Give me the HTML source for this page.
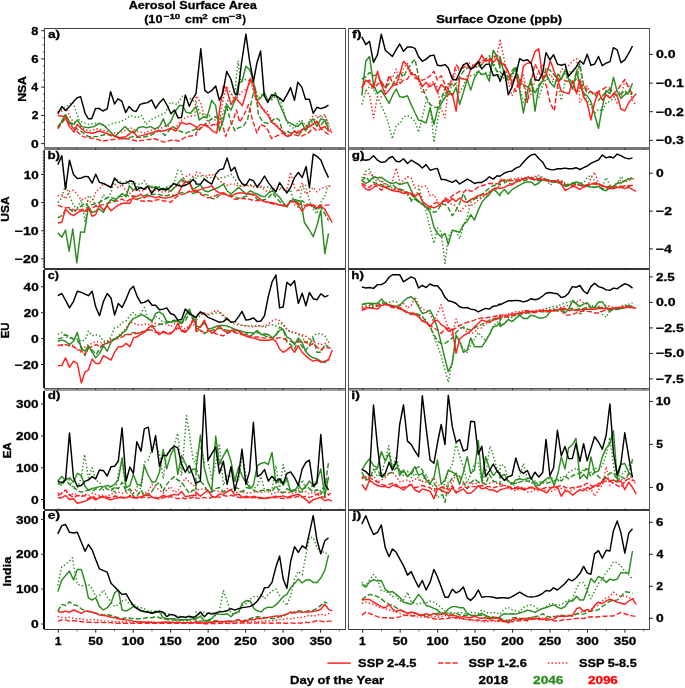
<!DOCTYPE html>
<html><head><meta charset="utf-8"><style>
html,body{margin:0;padding:0;background:#fff;width:685px;height:688px;overflow:hidden}
svg{display:block;will-change:transform}
text{font-family:"Liberation Sans",sans-serif;font-weight:bold}
</style></head><body>
<svg width="685" height="688" viewBox="0 0 685 688">
<rect width="685" height="688" fill="#fff"/>
<polyline points="57.8,112.1 64.0,107.7 72.8,102.2 79.5,121.0 88.4,124.4 97.3,123.2 106.1,126.6 112.8,123.2 119.4,122.1 126.1,118.8 130.5,115.5 137.2,117.7 141.6,115.5 146.1,124.4 150.5,119.9 154.9,117.7 159.4,115.5 164.9,113.3 170.5,102.2 177.1,104.4 182.7,95.5 186.0,99.9 190.5,98.8 196.0,102.5 200.4,114.5 204.8,114.5 209.1,115.6 213.5,120.0 217.9,120.0 222.3,115.6 226.7,102.5 231.0,95.9 235.0,91.5 238.0,60.8 240.9,81.6 245.3,79.5 249.6,80.6 254.0,87.1 258.4,98.1 262.8,93.7 267.2,100.3 271.5,100.3 275.9,95.9 280.3,100.3 283.6,111.2 286.9,122.2 290.6,126.5 294.5,128.7 297.8,122.2 301.8,120.0 305.5,126.5 309.4,124.4 313.2,121.1 316.9,117.8 320.8,115.6 324.8,114.5 328.5,124.4" fill="none" stroke="#2a8c1e" stroke-width="1.45" stroke-linejoin="round" stroke-dasharray="1.4 2.2"/>
<polyline points="57.8,113.3 66.2,108.8 71.7,119.9 79.5,126.6 88.4,131.0 97.3,128.8 106.1,131.0 112.8,133.2 121.7,132.1 130.5,127.7 137.2,131.0 143.9,133.2 152.7,129.9 159.4,128.8 167.2,125.5 174.9,128.8 181.6,119.9 188.2,116.6 194.9,115.5 196.0,95.9 200.4,102.5 203.7,113.4 208.0,122.2 212.4,124.4 216.8,124.4 219.4,122.2 223.4,98.1 226.7,86.0 231.0,93.7 235.0,100.3 238.7,95.9 242.4,91.5 246.4,89.3 250.7,81.6 254.0,93.7 258.4,106.8 262.8,109.0 267.2,111.2 271.5,120.0 275.9,124.4 280.3,128.7 283.6,132.0 288.0,135.3 292.4,133.1 296.7,130.9 301.1,130.9 305.5,127.6 309.9,120.0 313.2,115.6 316.4,115.6 320.8,117.8 324.8,115.6 328.5,124.4 331.8,133.1" fill="none" stroke="#ff2020" stroke-width="1.45" stroke-linejoin="round" stroke-dasharray="1.4 2.2"/>
<polyline points="57.8,127.7 65.1,115.5 72.8,126.6 80.6,131.0 88.4,136.6 97.3,136.6 106.1,134.3 115.0,136.6 123.9,138.8 132.8,136.6 141.6,137.7 150.5,135.4 159.4,130.6 164.9,135.4 172.7,126.6 179.4,131.0 186.0,133.2 196.0,128.8 196.0,130.9 202.6,126.5 206.9,122.2 211.8,118.9 215.7,116.7 219.4,120.0 223.4,117.8 226.7,106.8 231.0,122.2 235.0,130.9 238.7,127.6 243.1,126.5 247.5,120.0 251.2,102.5 255.1,86.0 258.4,114.5 262.8,122.2 267.8,123.3 271.5,121.1 275.9,117.8 279.2,120.0 283.2,133.1 286.9,130.9 290.6,133.1 294.5,130.9 298.9,135.3 303.3,128.7 307.7,128.7 312.1,124.4 316.4,122.2 320.8,125.4 324.8,120.0 328.5,130.9" fill="none" stroke="#2a8c1e" stroke-width="1.45" stroke-linejoin="round" stroke-dasharray="5.1 2.2"/>
<polyline points="57.8,128.8 65.1,118.8 72.8,127.7 82.8,136.6 88.4,137.7 95.0,138.8 102.8,141.0 110.6,139.9 119.4,138.8 128.3,138.8 137.2,141.0 146.1,139.9 154.9,138.8 163.8,142.1 172.7,139.9 179.4,141.0 186.0,136.6 196.0,135.4 196.0,133.1 200.4,128.7 204.8,124.4 209.1,126.5 213.5,124.4 217.9,125.4 221.2,120.0 225.6,136.4 228.8,128.7 233.2,120.0 236.5,110.1 239.8,122.2 244.2,114.5 248.6,104.6 252.5,120.0 256.9,133.1 260.6,124.4 265.0,126.5 268.3,130.9 271.5,138.6 275.9,136.4 280.3,134.2 283.6,133.1 288.0,136.4 292.4,134.2 296.7,135.3 301.1,136.4 305.5,134.2 309.4,132.0 313.2,127.6 316.9,130.9 320.8,128.7 325.2,132.0 329.6,135.3" fill="none" stroke="#ff2020" stroke-width="1.45" stroke-linejoin="round" stroke-dasharray="5.1 2.2"/>
<polyline points="57.8,126.6 61.8,122.1 65.5,114.4 69.5,122.1 74.0,124.4 77.3,119.9 81.7,126.6 88.4,127.7 93.9,126.6 99.5,123.2 103.9,125.5 110.6,132.1 115.0,136.6 119.4,132.1 125.0,126.6 129.4,131.0 133.9,133.2 138.3,127.7 142.7,126.6 146.1,127.7 150.5,126.6 154.9,128.8 159.4,126.6 163.4,118.8 166.0,126.6 170.5,122.1 174.9,112.1 179.4,105.5 182.7,105.5 186.0,112.1 190.5,113.3 194.9,107.7 196.0,106.8 199.3,120.0 203.7,116.7 206.9,117.8 211.8,100.3 215.7,105.7 219.4,130.9 223.4,120.0 226.7,104.6 231.0,110.1 235.0,100.3 238.7,82.7 242.0,81.6 245.9,66.3 249.6,69.6 253.4,80.6 256.9,100.3 260.6,98.1 264.3,92.6 267.8,100.3 271.5,98.1 275.3,92.6 279.2,103.5 283.2,112.3 286.9,121.1 290.6,123.3 294.5,125.4 297.8,126.5 301.8,122.2 305.5,130.9 309.4,122.2 313.2,118.9 316.9,126.5 320.8,118.9 324.8,120.0 328.5,128.7" fill="none" stroke="#2a8c1e" stroke-width="1.45" stroke-linejoin="round"/>
<polyline points="57.8,115.5 65.1,116.6 69.5,126.6 74.0,132.1 77.3,124.4 80.6,127.7 85.1,132.1 92.8,133.2 99.5,131.0 106.1,133.2 112.8,135.4 119.4,137.7 126.1,136.6 132.8,131.0 137.2,136.6 142.7,135.4 150.5,133.2 157.2,131.0 163.8,131.0 170.5,128.3 176.0,131.0 181.6,122.1 186.0,124.4 189.3,123.2 196.0,126.6 196.0,128.7 200.4,124.4 204.8,125.4 209.1,127.6 212.4,130.9 216.8,133.1 219.4,111.2 223.4,86.0 226.7,89.3 231.0,104.6 235.0,97.6 238.7,101.4 242.4,105.7 245.9,93.7 250.3,78.4 253.4,84.9 256.2,99.2 260.6,105.7 264.3,111.2 268.3,115.6 271.5,122.2 275.9,125.4 279.2,128.7 283.2,133.1 286.9,136.4 290.6,135.3 294.5,130.9 297.8,133.1 301.8,129.8 305.5,128.7 309.4,126.5 313.2,124.4 316.9,121.1 320.8,128.7 324.8,126.5 328.5,130.9 331.8,131.4" fill="none" stroke="#ff2020" stroke-width="1.45" stroke-linejoin="round"/>
<polyline points="57.8,113.7 61.8,106.6 65.5,110.6 69.5,106.6 74.0,101.1 77.3,97.7 80.6,96.6 85.1,113.3 88.4,118.8 91.7,118.8 95.5,108.4 99.0,108.4 102.8,111.0 107.2,108.8 110.6,91.7 114.6,103.9 117.9,98.8 121.7,101.1 125.7,112.6 129.0,106.6 132.8,110.6 136.1,111.5 140.1,104.4 143.9,103.3 147.8,102.6 151.6,99.9 155.6,108.4 159.4,102.8 163.4,98.8 167.2,105.5 170.9,113.7 174.5,109.9 178.2,118.1 181.6,117.2 185.3,95.1 189.3,106.2 192.7,98.8 196.0,93.7 200.8,48.8 204.8,90.4 208.0,93.0 211.8,90.4 215.7,86.0 219.4,100.3 222.7,93.7 226.7,71.4 231.0,79.5 234.8,93.7 237.6,94.8 241.5,63.0 245.9,34.1 249.6,60.8 253.4,81.6 256.9,63.0 260.6,51.0 264.3,95.9 267.8,102.5 271.5,94.8 275.9,95.9 279.6,98.1 283.2,101.4 286.9,94.8 290.6,87.6 294.5,100.3 297.8,82.3 301.8,87.1 305.5,99.2 309.4,99.2 313.2,113.4 316.9,107.3 320.8,108.6 324.8,107.3 328.5,105.1" fill="none" stroke="#000" stroke-width="1.45" stroke-linejoin="round"/>
<polyline points="57.8,202.4 61.8,197.9 65.5,184.6 69.5,195.7 73.5,205.7 77.3,207.9 81.3,200.1 85.1,221.2 88.4,195.7 92.2,197.9 96.1,207.9 99.5,203.5 103.5,194.6 107.2,199.0 111.0,192.4 115.0,179.1 118.3,180.2 122.1,183.5 126.1,181.3 129.9,184.6 133.4,183.5 137.2,183.5 141.0,184.6 144.3,180.8 148.3,186.8 152.1,186.2 155.6,186.8 159.4,186.8 163.2,190.6 166.7,186.8 170.5,185.7 174.3,182.4 177.8,170.2 181.6,171.3 184.9,184.6 189.3,180.2 193.1,178.0 196.0,179.1 196.0,176.5 200.4,175.4 204.3,178.7 208.0,177.6 211.8,177.6 215.7,178.7 219.4,177.6 223.4,177.6 227.1,176.5 231.0,174.3 234.8,178.7 238.7,185.2 242.4,186.3 246.4,185.2 250.3,184.8 254.0,187.4 257.3,187.0 261.3,187.4 265.0,187.0 268.7,187.0 272.6,189.6 275.9,188.5 279.6,187.4 283.2,189.6 286.9,192.9 290.6,189.6 294.5,204.9 298.3,207.1 302.2,187.4 305.5,185.2 309.4,200.6 313.2,209.3 316.9,213.7 320.8,202.7 324.8,196.2 328.5,185.2" fill="none" stroke="#2a8c1e" stroke-width="1.45" stroke-linejoin="round" stroke-dasharray="1.4 2.2"/>
<polyline points="57.8,195.7 61.8,194.6 65.5,199.0 69.5,191.3 73.5,190.2 77.3,194.6 81.3,200.1 85.1,197.9 88.4,202.4 92.2,201.3 96.1,191.3 99.5,189.1 103.5,183.5 107.2,185.7 111.0,185.7 115.0,184.6 118.3,187.9 122.1,184.6 126.1,191.3 129.9,193.5 133.4,190.2 137.2,190.2 141.0,191.3 144.3,190.2 148.3,187.9 152.1,191.3 155.6,190.2 159.4,191.3 163.2,192.4 166.7,191.3 170.5,192.4 174.3,186.8 177.8,185.7 181.6,182.4 185.3,176.8 189.3,174.6 193.1,176.8 196.0,174.6 196.0,172.1 200.4,173.2 204.3,176.5 208.0,175.4 211.8,174.3 215.7,176.5 219.4,180.8 223.4,183.0 227.1,185.2 231.0,184.1 234.8,184.1 238.7,186.3 242.4,186.3 246.4,185.2 250.3,186.3 254.0,185.2 257.3,187.4 261.3,186.3 265.0,190.7 268.7,191.8 272.6,189.6 275.9,190.7 279.6,189.6 283.2,188.5 286.9,190.7 290.6,172.1 294.5,187.4 298.3,191.8 302.2,182.6 305.5,194.0 309.4,191.8 313.2,187.4 316.9,191.8 320.8,188.5 324.8,187.4 328.5,186.3 330.7,186.3" fill="none" stroke="#ff2020" stroke-width="1.45" stroke-linejoin="round" stroke-dasharray="1.4 2.2"/>
<polyline points="57.8,217.9 61.8,215.7 65.5,210.1 69.5,209.0 74.0,212.4 77.3,209.0 81.3,205.7 85.1,203.0 88.4,206.8 92.2,204.6 96.1,203.5 99.5,202.4 103.5,200.1 107.2,197.9 111.0,197.3 115.0,199.0 118.3,196.8 122.1,196.4 126.1,194.6 129.9,196.8 133.4,195.7 137.2,199.0 141.0,197.9 144.3,195.7 148.3,194.2 152.1,194.6 155.6,194.2 159.4,194.6 163.2,195.7 166.7,195.7 170.5,194.6 174.3,195.7 177.8,194.6 181.6,192.4 185.3,193.5 189.3,191.3 193.1,193.5 196.0,192.4 196.0,190.7 200.4,192.9 204.3,194.4 208.0,195.1 211.8,198.4 215.7,198.8 219.4,195.1 223.4,192.9 227.1,195.1 231.0,195.1 234.8,197.3 238.7,198.4 242.4,197.3 246.4,196.2 250.3,194.0 254.0,195.7 257.3,199.5 261.3,200.6 265.0,199.5 268.7,197.3 272.6,192.9 275.9,197.3 279.6,201.6 283.2,204.9 286.9,206.0 290.6,200.6 294.5,200.6 298.3,202.7 302.2,200.6 305.5,203.8 309.9,204.9 313.2,207.1 316.9,209.3 320.8,207.1 324.8,213.7 328.5,220.3" fill="none" stroke="#2a8c1e" stroke-width="1.45" stroke-linejoin="round" stroke-dasharray="5.1 2.2"/>
<polyline points="57.8,205.2 61.8,206.8 65.5,207.9 69.5,207.5 73.5,210.1 77.3,210.1 81.3,209.7 85.1,209.0 88.4,209.7 92.2,207.9 96.1,205.7 99.5,205.2 103.5,204.6 107.2,203.5 111.0,202.4 115.0,201.3 118.3,200.8 122.1,199.0 126.1,201.7 129.9,199.5 133.4,198.6 137.2,199.5 141.0,200.8 144.3,201.3 148.3,200.8 152.1,201.3 155.6,200.1 159.4,199.5 163.2,200.8 166.7,201.3 170.5,202.4 174.3,199.0 177.8,195.7 181.6,194.6 185.3,193.5 189.3,191.3 193.1,192.4 196.0,191.3 196.0,191.8 200.4,194.0 204.3,196.2 208.0,197.9 211.8,197.3 215.7,195.7 219.4,194.0 223.4,194.0 227.1,195.1 231.0,196.6 234.8,199.5 238.7,198.8 242.4,198.4 246.4,198.8 250.3,199.5 254.0,200.6 257.3,200.6 261.3,201.0 265.0,201.6 268.7,202.7 272.6,203.8 275.9,204.5 279.6,204.9 283.2,205.4 286.9,205.4 290.6,201.6 294.5,201.6 298.3,203.8 302.2,204.9 305.5,205.4 309.4,206.0 313.2,205.4 316.9,206.7 320.8,204.9 324.8,205.4 328.5,204.9 330.7,204.5" fill="none" stroke="#ff2020" stroke-width="1.45" stroke-linejoin="round" stroke-dasharray="5.1 2.2"/>
<polyline points="57.8,232.8 61.8,237.2 65.5,230.1 69.1,251.2 72.8,229.0 76.8,262.9 80.6,231.9 84.4,232.3 88.4,206.8 92.2,212.4 95.7,211.2 99.5,209.0 103.5,212.4 107.2,204.6 111.0,199.5 114.6,201.3 118.3,197.3 122.1,193.5 126.1,196.8 129.4,185.7 133.4,190.2 137.2,186.8 141.0,187.9 144.3,189.1 148.3,185.7 152.1,187.9 155.6,186.8 159.4,187.9 163.2,190.2 166.7,187.9 170.5,191.3 174.3,187.9 177.8,183.5 181.6,179.1 185.3,182.4 189.3,181.3 192.7,189.1 196.0,187.9 196.0,187.4 200.4,184.8 204.3,190.7 208.0,191.8 211.8,190.0 215.7,188.5 219.4,187.0 223.4,184.1 227.1,190.7 231.0,194.0 234.8,190.7 238.7,187.4 242.4,190.7 246.4,194.0 250.3,190.7 254.0,192.9 257.3,194.0 261.3,196.2 265.0,196.6 268.7,192.9 272.6,190.7 275.9,194.0 279.6,197.3 283.2,202.7 286.9,207.1 290.6,200.6 294.5,199.5 298.3,200.6 301.1,202.3 304.4,222.5 308.8,229.0 313.2,236.7 316.9,225.7 320.8,210.4 324.8,253.5 328.5,233.4" fill="none" stroke="#2a8c1e" stroke-width="1.45" stroke-linejoin="round"/>
<polyline points="57.8,223.0 61.8,222.3 65.5,209.0 69.5,213.5 73.5,215.7 77.3,212.8 81.3,210.6 85.1,211.2 88.4,207.9 92.2,216.3 95.7,214.6 99.5,205.2 103.5,210.1 107.2,205.7 111.0,210.8 115.0,207.5 118.3,205.2 122.1,203.5 126.1,203.0 129.9,203.5 133.4,196.4 137.2,196.4 141.0,194.2 144.3,197.9 148.3,195.7 152.1,196.4 155.6,197.9 159.4,196.8 163.2,197.9 166.7,197.9 170.5,197.3 174.3,195.7 177.8,194.2 181.6,186.8 185.3,181.3 189.3,182.4 193.1,191.3 196.0,190.2 196.0,190.7 200.4,189.6 204.3,187.9 208.0,187.4 211.8,185.7 215.7,190.7 219.4,192.9 223.4,192.9 227.1,195.1 231.0,196.6 234.8,194.0 238.7,192.9 242.4,192.9 246.4,194.0 250.3,194.0 254.0,194.4 257.3,196.6 261.3,200.1 265.0,201.6 268.7,202.3 272.6,202.7 275.9,203.8 279.6,204.9 283.2,206.0 286.9,206.0 290.6,201.6 294.5,201.6 298.3,204.9 302.2,211.5 305.5,206.0 309.4,204.5 313.2,204.9 316.9,208.2 320.8,206.0 324.8,209.3 328.5,215.9 332.2,222.5" fill="none" stroke="#ff2020" stroke-width="1.45" stroke-linejoin="round"/>
<polyline points="57.8,164.6 61.8,155.8 65.5,189.1 69.5,160.2 73.5,174.6 77.3,178.6 81.3,178.0 85.1,176.4 88.4,176.8 92.2,183.1 95.7,174.2 99.5,182.4 103.5,183.5 107.2,185.3 111.0,187.5 114.6,178.0 118.3,182.4 122.1,183.9 126.1,183.1 129.9,180.8 133.4,181.7 136.8,190.2 140.5,187.5 143.9,189.1 147.8,186.2 151.6,193.5 155.6,187.9 159.4,190.2 162.7,188.4 166.0,190.2 170.0,187.5 173.8,183.5 177.8,185.3 181.6,186.2 185.3,185.3 189.3,183.1 193.1,179.5 196.0,182.4 196.0,184.1 200.4,184.1 204.3,179.1 208.0,181.9 211.8,184.1 215.7,174.3 219.4,169.9 223.4,168.8 227.1,157.9 231.0,171.0 234.8,167.3 238.7,178.7 242.0,183.7 245.9,185.2 249.6,179.1 253.4,180.8 257.3,187.0 261.0,181.9 264.5,176.0 268.3,182.6 272.0,187.4 275.9,191.8 279.6,182.6 283.2,187.9 286.9,192.9 290.6,187.4 294.5,177.6 298.3,172.5 302.2,177.6 306.1,166.6 309.4,187.9 313.2,154.1 316.9,156.3 320.8,160.0 324.8,169.9 328.5,177.6" fill="none" stroke="#000" stroke-width="1.45" stroke-linejoin="round"/>
<polyline points="57.8,334.1 61.8,332.4 65.5,336.8 69.5,337.9 73.5,340.1 77.3,339.0 81.3,341.2 85.1,340.1 88.4,331.2 92.2,335.7 95.7,334.6 99.5,335.7 103.5,341.2 107.2,341.2 111.0,336.8 114.6,327.9 118.3,326.8 122.1,322.4 126.1,320.8 129.9,315.7 133.4,312.4 137.2,316.8 141.0,313.5 144.3,307.5 148.3,318.6 152.1,320.1 155.6,316.4 159.4,318.6 163.2,322.4 166.7,321.3 170.5,322.4 174.3,321.3 177.8,323.5 181.6,323.5 185.3,316.8 189.3,311.3 193.1,317.9 196.0,321.3 196.0,320.6 200.4,315.1 204.3,314.0 208.0,315.1 211.8,314.0 215.7,312.9 219.4,312.9 223.4,316.2 227.1,319.5 231.0,321.6 234.8,324.5 238.7,324.9 242.4,325.4 246.4,326.0 250.3,325.4 254.0,326.0 257.3,325.4 261.3,326.7 265.0,327.1 268.7,325.4 272.6,324.9 275.9,326.0 279.6,322.7 283.2,324.9 286.9,329.3 290.6,332.6 294.5,332.6 298.3,334.8 302.2,335.9 305.5,343.5 309.4,340.3 313.2,335.9 316.9,333.7 320.8,333.7 324.8,335.9 328.5,342.5" fill="none" stroke="#2a8c1e" stroke-width="1.45" stroke-linejoin="round" stroke-dasharray="1.4 2.2"/>
<polyline points="57.8,345.2 61.8,345.7 65.5,344.6 69.5,345.7 73.5,345.2 77.3,350.1 81.3,352.3 85.1,346.8 88.4,344.6 92.2,343.4 96.1,341.2 99.5,342.3 103.5,343.4 107.2,342.3 111.0,339.0 115.0,339.0 118.3,335.7 122.1,332.4 126.1,327.9 129.9,322.4 133.4,323.0 137.2,324.6 141.0,325.2 144.3,323.9 148.3,324.6 152.1,322.4 155.6,323.5 159.4,323.9 163.2,324.6 166.7,323.5 170.5,326.8 174.3,323.9 177.8,321.3 181.6,326.8 185.3,329.0 189.3,325.7 193.1,324.6 196.0,325.7 196.0,315.1 200.4,314.0 204.3,312.9 208.0,314.0 211.8,312.9 215.7,310.7 219.4,311.4 223.4,315.1 227.1,318.4 231.0,321.6 234.8,321.6 238.7,323.8 242.4,325.4 246.4,326.0 250.3,326.7 254.0,327.1 257.3,326.0 261.3,326.0 265.0,326.0 268.7,323.8 272.6,320.6 275.9,319.5 279.6,320.6 283.2,323.8 286.9,329.3 290.6,331.5 294.5,332.6 298.3,333.7 302.2,334.8 305.5,335.9 309.4,339.2 313.2,341.4 316.9,343.5 320.8,344.6 324.8,343.5 328.5,342.0 330.7,342.5" fill="none" stroke="#ff2020" stroke-width="1.45" stroke-linejoin="round" stroke-dasharray="1.4 2.2"/>
<polyline points="57.8,339.0 61.8,337.9 65.5,334.6 69.5,336.8 73.5,339.0 77.3,340.1 81.3,346.8 85.1,355.6 88.4,347.9 92.2,350.1 96.1,354.5 99.5,349.0 103.5,343.4 107.2,343.4 111.0,340.1 115.0,339.0 118.3,336.8 122.1,334.6 126.1,334.6 129.9,334.1 133.4,332.4 137.2,333.5 141.0,332.4 144.3,331.2 148.3,330.1 152.1,326.8 155.6,326.1 159.4,324.6 163.2,323.5 166.7,323.0 170.5,321.3 174.3,320.1 177.8,320.8 181.6,322.4 185.3,321.3 189.3,312.4 193.1,320.1 196.0,324.6 196.0,329.3 200.4,330.4 204.3,333.7 208.0,331.5 211.8,330.4 215.7,329.3 219.4,328.2 223.4,329.3 227.1,330.4 231.0,330.4 234.8,331.5 238.7,331.5 242.4,335.9 246.4,333.7 250.3,335.9 254.0,333.7 257.3,332.6 261.3,333.7 265.0,335.9 268.7,337.0 272.6,338.1 275.9,335.9 279.6,327.1 283.2,329.3 286.9,342.5 290.6,344.6 294.5,349.0 298.3,340.3 302.2,346.8 305.5,350.8 309.4,344.6 313.2,338.1 316.9,352.3 320.8,352.3 324.8,344.6 328.5,346.8" fill="none" stroke="#2a8c1e" stroke-width="1.45" stroke-linejoin="round" stroke-dasharray="5.1 2.2"/>
<polyline points="57.8,345.7 61.8,344.6 65.5,344.6 69.5,345.7 73.5,346.8 77.3,349.0 81.3,351.2 85.1,354.5 88.4,347.9 92.2,346.8 96.1,344.6 99.5,346.8 103.5,344.6 107.2,343.4 111.0,341.2 115.0,339.0 118.3,338.6 122.1,336.8 126.1,334.6 129.9,334.6 133.4,333.5 137.2,333.5 141.0,331.9 144.3,331.2 148.3,329.7 152.1,330.1 155.6,332.4 159.4,332.4 163.2,332.4 166.7,332.4 170.5,332.8 174.3,331.2 177.8,327.9 181.6,330.1 185.3,331.2 189.3,326.8 193.1,319.0 196.0,322.4 196.0,331.5 200.4,330.4 204.3,332.6 208.0,330.4 211.8,331.5 215.7,333.7 219.4,334.8 223.4,335.9 227.1,333.7 231.0,331.5 234.8,332.6 238.7,333.7 242.4,334.8 246.4,334.8 250.3,337.0 254.0,337.0 257.3,337.0 261.3,337.6 265.0,338.1 268.7,337.6 272.6,337.6 275.9,338.5 279.6,337.6 283.2,338.5 286.9,340.3 290.6,341.4 294.5,342.5 298.3,341.4 302.2,342.5 305.5,341.4 309.4,345.7 313.2,343.5 316.9,346.8 320.8,350.1 324.8,346.8 328.5,347.9 330.7,347.9" fill="none" stroke="#ff2020" stroke-width="1.45" stroke-linejoin="round" stroke-dasharray="5.1 2.2"/>
<polyline points="57.8,341.2 61.8,340.1 65.5,341.2 69.5,344.6 73.5,341.2 77.3,332.4 81.3,349.0 85.1,351.2 88.4,345.7 92.2,352.3 95.7,357.9 99.5,353.4 103.5,345.7 107.2,351.2 111.0,342.3 114.6,339.0 118.3,336.8 122.1,333.5 126.1,330.1 129.9,322.4 133.4,318.6 137.2,316.8 141.0,314.6 144.3,315.7 148.3,318.6 152.1,321.3 155.6,313.5 159.4,311.9 163.2,314.6 166.7,321.3 170.5,322.4 174.3,321.3 177.8,320.8 181.6,323.5 185.3,315.7 189.3,309.1 193.1,318.6 196.0,320.1 196.0,326.0 200.4,327.1 204.3,322.7 208.0,328.9 211.8,328.2 215.7,326.7 219.4,325.4 223.4,325.4 227.1,326.0 231.0,327.6 234.8,329.3 238.7,330.4 242.4,331.5 246.4,332.6 250.3,332.6 254.0,333.3 257.3,330.4 261.3,334.8 265.0,333.7 268.7,334.8 272.6,338.1 275.9,334.8 279.6,330.4 283.2,329.3 286.9,337.0 290.6,339.2 294.5,344.6 298.3,338.1 302.2,342.5 305.5,351.2 309.4,355.6 313.2,357.8 316.9,358.9 320.8,361.1 324.8,362.6 328.5,358.9" fill="none" stroke="#2a8c1e" stroke-width="1.45" stroke-linejoin="round"/>
<polyline points="57.8,365.6 61.8,365.6 65.5,357.9 69.5,367.4 73.5,361.2 77.3,363.4 81.3,382.9 85.1,371.8 88.4,370.1 92.2,359.0 95.7,363.4 99.5,363.4 103.5,355.6 107.2,357.9 111.0,360.1 114.6,352.3 118.3,346.8 122.1,346.8 126.1,343.4 129.9,346.8 133.4,337.9 137.2,336.8 141.0,334.1 144.3,332.4 148.3,327.9 152.1,325.2 155.6,331.2 159.4,334.6 163.2,331.2 166.7,333.5 170.5,334.1 174.3,330.1 177.8,323.5 181.6,331.2 185.3,332.4 189.3,327.9 193.1,320.1 196.0,324.6 196.0,329.3 200.4,327.1 204.3,320.1 208.0,329.3 211.8,333.3 215.7,330.4 219.4,326.0 223.4,330.4 227.1,332.6 231.0,330.4 234.8,329.8 238.7,331.1 242.4,333.7 246.4,336.3 250.3,337.6 254.0,338.1 257.3,339.2 261.3,340.3 265.0,340.3 268.7,340.3 272.6,339.2 275.9,341.4 279.6,349.0 283.2,352.3 286.9,350.1 290.6,346.8 294.5,352.3 298.3,345.7 302.2,352.3 305.5,355.6 309.4,358.9 313.2,361.1 316.9,360.0 320.8,362.2 324.8,361.1 328.5,360.0 332.2,350.1" fill="none" stroke="#ff2020" stroke-width="1.45" stroke-linejoin="round"/>
<polyline points="57.8,295.7 61.8,293.5 65.5,300.2 69.5,307.9 73.5,301.3 77.3,291.3 81.3,292.4 85.1,294.2 88.4,295.7 92.2,291.3 95.7,306.8 99.5,315.7 103.5,301.3 107.2,293.5 111.0,298.0 114.6,315.0 118.3,303.5 122.1,307.5 126.1,299.1 129.9,289.7 133.4,286.2 137.2,296.4 141.0,303.1 144.3,302.4 148.3,300.2 152.1,305.3 155.6,305.3 159.4,309.7 163.2,309.1 166.7,307.9 170.5,313.5 174.3,315.0 177.8,320.1 181.6,319.5 185.3,309.1 189.3,313.5 193.1,315.7 196.0,317.9 196.0,317.3 200.4,311.8 204.3,314.0 208.0,317.3 211.8,318.8 215.7,320.6 219.4,322.3 223.4,321.6 227.1,318.4 231.0,322.3 234.8,321.6 238.7,316.6 242.0,311.4 245.9,320.1 249.6,319.5 253.4,317.9 257.3,321.6 261.0,321.0 264.5,315.7 268.3,296.5 272.0,282.2 275.9,275.0 279.6,307.9 283.2,307.0 286.9,282.2 290.6,285.5 294.5,280.7 298.3,303.5 302.2,293.2 305.9,305.7 309.4,292.5 313.2,298.7 316.9,299.8 320.8,293.8 324.8,296.9 328.5,295.4" fill="none" stroke="#000" stroke-width="1.45" stroke-linejoin="round"/>
<polyline points="57.8,484.4 61.8,483.3 65.5,477.8 69.5,480.0 73.5,488.9 77.3,487.7 81.3,477.8 84.6,454.5 88.4,477.8 92.2,467.8 95.7,480.0 99.5,482.2 103.5,490.0 107.2,487.7 111.0,486.6 115.0,493.3 118.3,473.3 122.1,461.1 126.1,493.3 129.9,492.2 133.4,493.3 137.2,486.6 141.0,488.9 144.3,462.2 148.3,460.0 152.1,447.8 155.6,444.5 159.4,453.4 163.2,478.9 166.7,453.4 170.5,451.1 174.3,444.5 177.8,433.4 181.6,475.5 186.5,415.6 189.3,433.4 193.1,460.0 196.0,464.4 196.0,454.7 200.4,445.9 204.3,462.4 208.0,461.3 211.8,479.9 215.7,463.5 219.4,443.7 223.4,485.4 227.1,475.5 231.0,476.6 234.8,481.0 238.7,479.9 242.4,454.7 246.4,478.8 250.3,487.5 254.0,488.6 257.3,485.4 261.0,476.6 264.5,489.7 268.3,490.8 272.0,489.7 275.9,465.6 279.6,489.7 283.2,464.5 286.9,481.0 290.6,490.8 294.5,489.7 298.3,488.6 302.2,479.9 305.9,488.6 309.4,487.5 313.2,485.4 316.9,489.7 320.8,490.8 324.8,485.4 328.5,478.8" fill="none" stroke="#2a8c1e" stroke-width="1.45" stroke-linejoin="round" stroke-dasharray="1.4 2.2"/>
<polyline points="57.8,493.3 61.8,492.8 65.5,490.0 69.5,495.5 73.5,493.3 77.3,495.1 81.3,496.0 85.1,494.4 88.4,495.5 92.2,493.3 96.1,494.4 99.5,495.5 103.5,495.1 107.2,496.6 111.0,493.7 115.0,493.3 118.3,492.2 122.1,493.3 126.1,491.5 129.9,488.9 133.4,493.3 137.2,491.1 141.0,494.4 144.3,493.3 148.3,491.1 152.1,484.4 155.6,487.7 159.4,490.0 163.2,493.3 166.7,490.0 170.5,486.6 174.3,492.2 177.8,491.1 181.6,484.4 185.3,477.8 189.3,482.2 193.1,484.4 196.0,488.9 196.0,489.7 200.4,489.3 204.3,488.6 208.0,491.9 211.8,491.9 215.7,490.2 219.4,491.9 223.4,491.9 227.1,488.6 231.0,489.7 234.8,493.0 238.7,491.9 242.4,491.5 246.4,493.0 250.3,493.0 254.0,491.9 257.3,491.9 261.0,492.4 264.5,491.5 268.3,491.9 272.0,494.1 275.9,492.4 279.6,491.9 283.2,491.9 286.9,491.9 290.6,493.0 294.5,493.0 298.3,490.8 302.2,489.7 305.9,491.9 309.4,494.1 313.2,491.9 316.9,494.1 320.8,491.9 324.8,493.0 328.5,494.1 330.7,494.1" fill="none" stroke="#ff2020" stroke-width="1.45" stroke-linejoin="round" stroke-dasharray="1.4 2.2"/>
<polyline points="57.8,482.2 61.8,485.5 65.5,480.0 69.5,484.4 73.5,486.6 77.3,490.6 81.3,492.2 85.1,491.1 88.4,490.0 92.2,491.1 96.1,488.9 99.5,490.0 103.5,486.6 107.2,488.9 111.0,491.1 115.0,486.6 118.3,488.9 122.1,482.2 126.1,491.1 129.9,488.9 133.4,496.6 137.2,495.5 141.0,490.0 144.3,495.5 148.3,495.5 152.1,491.1 155.6,485.5 159.4,482.2 163.2,491.1 166.7,484.4 170.5,480.0 174.3,476.6 177.8,480.0 181.6,482.2 185.3,487.7 189.3,493.3 193.1,490.0 196.0,491.1 196.0,467.8 200.4,481.0 204.3,485.4 208.0,491.9 211.8,491.9 215.7,488.6 219.4,487.5 223.4,491.9 227.1,490.8 231.0,489.7 234.8,487.5 238.7,488.6 242.4,491.9 246.4,487.5 250.3,488.6 254.0,490.2 257.3,491.9 261.0,490.8 264.5,490.2 268.3,489.7 272.0,491.9 275.9,485.4 279.6,491.9 283.2,493.0 286.9,488.6 290.6,490.8 294.5,489.7 298.3,491.9 302.2,491.9 305.9,485.4 309.4,488.6 313.2,491.9 316.9,489.7 320.8,494.1 324.8,488.6 328.5,462.4" fill="none" stroke="#2a8c1e" stroke-width="1.45" stroke-linejoin="round" stroke-dasharray="5.1 2.2"/>
<polyline points="57.8,495.5 61.8,493.3 65.5,490.0 69.5,494.4 73.5,497.7 77.3,495.5 81.3,496.6 85.1,495.5 88.4,498.8 92.2,495.5 96.1,498.8 99.5,496.6 103.5,497.7 107.2,497.3 111.0,497.7 115.0,496.0 118.3,496.6 122.1,497.7 126.1,498.2 129.9,495.5 133.4,497.3 137.2,498.2 141.0,497.7 144.3,497.3 148.3,497.7 152.1,496.6 155.6,497.7 159.4,499.5 163.2,497.3 166.7,497.7 170.5,496.6 174.3,497.7 177.8,498.8 181.6,497.7 185.3,498.8 189.3,498.2 193.1,497.3 196.0,496.6 196.0,498.1 200.4,498.5 204.3,497.4 208.0,498.5 211.8,497.4 215.7,496.3 219.4,497.4 223.4,495.2 227.1,496.3 231.0,495.2 234.8,496.3 238.7,497.4 242.4,498.1 246.4,497.4 250.3,498.1 254.0,497.4 257.3,498.5 261.0,498.1 264.5,498.5 268.3,498.1 272.0,497.4 275.9,497.4 279.6,498.1 283.2,498.5 286.9,498.1 290.6,497.4 294.5,497.4 298.3,496.3 302.2,497.4 305.9,496.3 309.4,497.4 313.2,496.3 316.9,494.1 320.8,496.3 324.8,497.4 328.5,495.2 330.7,493.0" fill="none" stroke="#ff2020" stroke-width="1.45" stroke-linejoin="round" stroke-dasharray="5.1 2.2"/>
<polyline points="57.8,481.1 61.8,476.6 65.5,480.0 69.5,477.8 73.5,482.2 77.3,473.3 81.3,475.5 85.1,486.6 88.4,490.0 92.2,488.4 95.7,487.7 99.5,486.6 103.5,486.6 107.2,485.5 111.0,486.6 114.6,484.4 118.3,480.0 122.1,457.8 126.1,487.7 129.9,485.5 133.4,474.4 137.2,484.4 141.0,485.5 144.3,465.6 148.3,475.5 152.1,482.2 155.6,481.8 159.4,472.2 163.2,449.4 166.7,468.9 170.5,455.6 174.3,447.8 177.8,474.4 181.6,455.6 185.3,463.3 189.3,473.3 193.1,468.9 196.0,470.0 196.0,470.0 200.4,435.0 204.3,467.8 208.0,482.1 211.8,490.8 215.7,436.1 219.4,464.5 223.4,455.8 227.1,449.2 231.0,461.3 234.8,481.0 238.7,466.7 242.4,476.6 246.4,483.2 250.3,488.0 253.4,485.4 257.3,465.6 261.0,463.5 264.5,462.4 268.3,464.5 272.0,452.5 275.9,483.2 279.6,479.9 283.2,485.4 286.9,477.7 290.6,491.9 294.5,490.8 298.3,485.4 302.2,489.7 305.9,486.4 309.4,481.0 313.2,485.4 316.9,481.0 320.8,468.9 324.8,496.3 328.5,476.6" fill="none" stroke="#2a8c1e" stroke-width="1.45" stroke-linejoin="round"/>
<polyline points="57.8,497.7 61.8,497.7 65.5,495.5 69.5,499.5 73.5,498.8 77.3,503.3 81.3,502.2 85.1,501.1 88.4,499.5 92.2,497.7 95.7,499.9 99.5,497.7 103.5,496.6 107.2,498.8 111.0,499.9 115.0,498.2 118.3,497.7 122.1,497.3 126.1,497.7 129.9,496.6 133.4,497.7 137.2,497.3 141.0,496.6 144.3,495.5 148.3,493.3 152.1,497.3 155.6,498.2 159.4,497.7 163.2,495.5 166.7,496.6 170.5,495.5 174.3,494.4 177.8,495.1 181.6,491.5 185.3,496.6 189.3,496.0 193.1,495.1 196.0,495.5 196.0,491.9 200.4,496.3 204.3,493.0 208.0,490.2 211.8,496.3 215.7,497.4 219.4,494.1 223.4,494.1 227.1,491.9 231.0,489.7 234.8,495.2 238.7,494.1 242.4,497.4 246.4,496.3 250.3,497.4 254.0,496.3 257.3,497.4 261.0,497.4 264.5,498.5 268.3,497.4 272.0,497.4 275.9,496.3 279.6,496.7 283.2,495.9 286.9,497.4 290.6,496.3 294.5,495.2 298.3,494.1 302.2,496.7 305.9,499.6 309.4,502.9 313.2,499.6 316.9,498.5 320.8,497.4 324.8,500.7 328.5,499.6 332.2,501.1" fill="none" stroke="#ff2020" stroke-width="1.45" stroke-linejoin="round"/>
<polyline points="57.8,481.1 61.8,482.6 65.5,480.0 69.5,432.9 73.5,477.8 77.3,486.2 81.3,485.5 85.1,481.1 88.4,480.0 92.2,476.6 95.7,478.9 99.5,470.0 103.5,470.7 107.2,476.0 111.0,466.7 114.6,466.2 118.3,461.1 122.1,427.8 126.1,481.1 129.9,467.1 133.4,473.3 136.8,441.8 141.0,451.1 144.3,428.9 148.3,427.2 152.1,452.2 155.6,435.6 159.4,466.2 163.2,455.1 166.7,455.6 170.5,449.4 174.3,446.2 177.8,447.8 181.6,464.4 185.3,472.2 189.3,465.6 193.1,475.5 196.0,484.4 196.0,483.2 200.4,481.0 204.3,395.1 208.0,460.2 211.8,453.6 215.7,447.0 219.4,473.3 223.4,461.3 227.1,484.3 231.0,466.7 234.8,490.8 238.7,474.4 242.0,449.2 245.9,484.3 249.6,471.1 253.4,422.3 257.3,476.6 261.0,474.4 264.5,469.6 268.3,481.0 272.0,476.2 275.9,481.0 279.6,478.8 283.2,483.6 286.9,473.3 290.6,471.8 294.5,477.7 298.3,485.4 302.2,468.9 305.9,462.4 309.4,460.2 313.2,486.4 316.9,483.2 320.8,434.5 324.8,483.2 328.5,490.2" fill="none" stroke="#000" stroke-width="1.45" stroke-linejoin="round"/>
<polyline points="57.8,585.6 61.8,566.7 65.5,564.5 69.5,561.1 72.4,557.8 75.1,573.4 77.3,584.4 81.3,585.6 85.1,585.6 88.4,584.4 92.2,588.9 95.7,596.6 99.5,595.5 103.5,590.0 107.2,596.6 111.0,602.2 115.0,606.6 118.3,604.4 122.1,601.1 126.1,600.0 129.9,604.4 133.4,604.4 137.2,606.6 141.0,607.7 144.3,608.9 148.3,611.1 152.1,611.1 155.6,612.2 159.4,612.2 163.2,613.3 166.7,613.3 170.5,614.4 174.3,615.5 177.8,616.0 181.6,616.6 185.3,617.3 189.3,617.7 193.1,617.3 196.0,616.6 196.0,611.9 200.4,615.9 204.3,611.9 208.0,614.1 211.8,611.9 215.7,616.3 219.4,610.8 223.4,590.5 227.1,601.0 231.0,613.7 234.8,613.7 238.7,611.9 242.4,605.4 246.4,603.2 250.3,598.8 254.0,596.6 257.3,596.6 261.3,594.4 264.5,598.8 268.3,594.4 272.0,591.1 275.9,588.9 279.6,595.5 283.2,601.0 286.9,605.4 290.6,595.5 294.5,579.1 298.3,571.4 302.2,574.7 305.9,555.0 309.4,537.5 313.2,537.5 316.9,547.3 320.8,552.8 324.8,551.7 328.5,556.1" fill="none" stroke="#2a8c1e" stroke-width="1.45" stroke-linejoin="round" stroke-dasharray="1.4 2.2"/>
<polyline points="57.8,616.6 61.8,617.3 65.5,617.7 69.5,617.3 73.5,618.2 77.3,618.8 81.3,618.8 85.1,619.9 88.4,619.9 92.2,619.5 96.1,619.9 99.5,620.4 103.5,621.1 107.2,621.1 111.0,621.1 115.0,621.7 118.3,621.7 122.1,621.7 126.1,621.7 129.9,622.2 133.4,621.7 137.2,622.2 141.0,622.2 144.3,622.2 148.3,621.7 152.1,622.2 155.6,622.2 159.4,622.2 163.2,622.2 166.7,621.7 170.5,622.2 174.3,622.2 177.8,622.2 181.6,622.2 185.3,622.2 189.3,621.7 193.1,622.2 196.0,622.2 196.0,622.4 200.4,621.8 204.3,622.0 208.0,622.4 211.8,621.8 215.7,622.4 219.4,622.0 223.4,621.8 227.1,622.4 231.0,621.8 234.8,621.8 238.7,622.4 242.4,621.8 246.4,621.8 250.3,621.1 254.0,621.1 257.3,621.8 261.3,621.1 264.5,620.7 268.3,620.7 272.0,620.7 275.9,620.2 279.6,619.6 283.2,619.6 286.9,618.5 290.6,618.9 294.5,618.1 298.3,617.4 302.2,617.4 305.9,616.3 309.4,615.2 313.2,616.3 316.9,615.2 320.8,614.1 324.8,615.2 328.5,613.7 331.8,613.7" fill="none" stroke="#ff2020" stroke-width="1.45" stroke-linejoin="round" stroke-dasharray="1.4 2.2"/>
<polyline points="57.8,611.1 61.8,604.4 65.5,605.5 69.5,601.8 73.5,604.9 77.3,605.5 81.3,608.9 85.1,610.6 88.4,611.5 92.2,612.2 96.1,613.3 99.5,613.7 103.5,615.1 107.2,614.4 111.0,615.5 115.0,616.6 118.3,617.7 122.1,618.8 126.1,617.7 129.9,618.2 133.4,618.8 137.2,618.8 141.0,618.8 144.3,618.2 148.3,617.3 152.1,617.7 155.6,616.6 159.4,617.7 163.2,618.8 166.7,619.5 170.5,619.9 174.3,619.9 177.8,620.4 181.6,619.9 185.3,620.4 189.3,619.9 193.1,619.5 196.0,619.9 196.0,621.8 200.4,621.1 204.3,621.1 208.0,620.7 211.8,621.1 215.7,620.7 219.4,621.1 223.4,621.8 227.1,620.7 231.0,621.1 234.8,620.7 238.7,619.6 242.4,621.1 246.4,619.6 250.3,618.5 254.0,617.4 257.3,616.7 261.3,617.4 264.5,617.4 268.3,618.1 272.0,618.5 275.9,618.5 279.6,616.7 283.2,616.3 286.9,614.1 290.6,613.7 294.5,611.9 298.3,610.8 302.2,611.5 305.9,611.5 309.4,610.8 313.2,610.2 316.9,608.6 320.8,605.4 324.8,602.1 327.4,603.2" fill="none" stroke="#2a8c1e" stroke-width="1.45" stroke-linejoin="round" stroke-dasharray="5.1 2.2"/>
<polyline points="57.8,621.1 61.8,619.9 65.5,619.9 69.5,621.1 73.5,620.6 77.3,621.1 81.3,621.7 85.1,622.2 88.4,622.2 92.2,622.2 96.1,622.6 99.5,622.2 103.5,622.6 107.2,622.6 111.0,622.6 115.0,623.3 118.3,623.3 122.1,623.3 126.1,623.3 129.9,623.3 133.4,623.3 137.2,623.3 141.0,623.3 144.3,623.3 148.3,623.3 152.1,623.3 155.6,623.3 159.4,623.3 163.2,623.3 166.7,623.3 170.5,623.3 174.3,623.3 177.8,623.3 181.6,623.3 185.3,623.3 189.3,623.3 193.1,623.3 196.0,623.3 196.0,623.3 200.4,623.3 204.3,623.7 208.0,623.7 211.8,623.3 215.7,623.7 219.4,623.3 223.4,623.3 227.1,623.3 231.0,623.7 234.8,623.3 238.7,622.9 242.4,622.9 246.4,622.9 250.3,622.9 254.0,623.3 257.3,622.9 261.3,622.9 264.5,622.9 268.3,622.9 272.0,623.3 275.9,622.9 279.6,622.9 283.2,622.9 286.9,623.3 290.6,622.9 294.5,623.3 298.3,622.9 302.2,622.9 305.9,622.4 309.4,622.4 313.2,621.8 316.9,620.7 320.8,621.1 324.8,621.8 328.5,621.1 331.8,621.1" fill="none" stroke="#ff2020" stroke-width="1.45" stroke-linejoin="round" stroke-dasharray="5.1 2.2"/>
<polyline points="57.8,591.5 61.8,580.0 65.5,575.6 69.5,571.1 73.5,580.0 77.3,569.4 81.3,569.4 85.1,582.2 88.4,597.8 92.2,600.0 95.7,597.8 99.5,606.6 103.5,610.0 107.2,607.7 111.0,603.3 114.6,592.9 118.3,590.0 122.1,610.0 126.1,611.1 129.9,608.9 133.4,606.6 137.2,607.7 141.0,611.1 144.3,611.5 148.3,612.2 152.1,612.8 155.6,611.1 159.4,612.2 163.2,617.7 166.7,618.8 170.5,618.8 174.3,618.8 177.8,619.9 181.6,619.9 185.3,619.5 189.3,619.9 193.1,618.8 196.0,618.2 196.0,618.5 200.4,616.3 204.3,620.7 208.0,620.2 211.8,618.5 215.7,614.1 219.4,614.1 223.4,614.5 227.1,613.7 231.0,616.7 234.8,613.0 238.7,611.9 242.4,603.2 246.4,600.5 250.3,601.0 254.0,608.6 257.3,610.8 261.3,611.9 264.5,608.6 268.3,607.1 272.0,607.5 275.9,604.9 279.6,601.0 283.2,596.6 286.9,594.4 290.6,587.8 294.5,583.5 298.3,579.1 302.2,583.0 305.9,580.2 309.4,579.5 313.2,582.4 316.9,582.4 320.8,578.0 324.8,570.3 328.5,555.4" fill="none" stroke="#2a8c1e" stroke-width="1.45" stroke-linejoin="round"/>
<polyline points="57.8,611.5 61.8,612.2 65.5,611.1 69.5,612.2 73.5,610.0 77.3,611.5 81.3,613.3 85.1,611.1 88.4,611.1 92.2,612.2 96.1,613.3 99.5,615.1 103.5,615.5 107.2,616.0 111.0,617.3 115.0,617.7 118.3,618.8 122.1,619.5 126.1,619.9 129.9,620.4 133.4,621.1 137.2,621.7 141.0,621.7 144.3,622.2 148.3,622.2 152.1,622.2 155.6,622.6 159.4,622.6 163.2,622.2 166.7,622.2 170.5,622.2 174.3,622.6 177.8,622.2 181.6,622.6 185.3,622.6 189.3,622.6 193.1,622.6 196.0,622.6 196.0,621.8 200.4,622.9 204.3,622.9 208.0,622.4 211.8,622.9 215.7,621.1 219.4,621.8 223.4,621.8 227.1,621.1 231.0,621.8 234.8,621.1 238.7,619.6 242.4,621.8 246.4,620.7 250.3,619.6 254.0,619.6 257.3,618.5 261.3,618.5 264.5,618.1 268.3,617.4 272.0,616.7 275.9,615.9 279.6,616.3 283.2,615.2 286.9,614.1 290.6,611.9 294.5,613.0 298.3,611.5 302.2,612.4 305.9,611.9 309.4,611.9 313.2,611.5 316.9,610.8 320.8,609.3 324.8,604.3 328.5,609.3 332.2,610.8" fill="none" stroke="#ff2020" stroke-width="1.45" stroke-linejoin="round"/>
<polyline points="57.8,533.9 61.8,525.6 65.5,524.5 69.5,532.3 73.5,533.0 77.3,532.3 81.3,542.3 85.1,551.2 88.4,544.5 92.2,550.1 95.7,559.6 99.5,568.9 103.5,570.7 107.2,572.2 111.0,583.3 114.6,586.7 118.3,590.7 122.1,594.4 126.1,593.8 129.9,600.4 133.4,605.5 137.2,608.9 141.0,610.6 144.3,611.5 148.3,612.2 152.1,613.3 155.6,612.2 159.4,611.1 163.2,612.2 166.7,616.6 170.5,614.4 174.3,615.1 177.8,617.7 181.6,616.6 185.3,617.3 189.3,616.2 193.1,617.3 196.0,616.6 196.0,616.3 200.4,611.9 204.3,616.7 208.0,613.0 211.8,614.1 215.7,613.0 219.4,611.9 223.4,611.5 227.1,610.8 231.0,608.6 234.8,610.2 238.7,608.6 242.4,607.5 246.4,607.1 250.3,606.4 254.0,604.3 257.3,601.0 261.3,595.5 264.5,587.8 268.3,587.4 272.0,582.4 275.9,567.0 279.6,556.1 283.2,579.1 286.9,588.3 290.6,561.6 294.5,546.7 298.3,552.4 302.2,545.8 305.9,548.4 309.4,533.1 313.2,515.6 316.9,539.7 320.8,553.9 324.8,540.8 328.5,537.9" fill="none" stroke="#000" stroke-width="1.45" stroke-linejoin="round"/>
<polyline points="361.8,104.6 365.8,91.2 369.5,86.8 373.5,89.0 377.5,96.8 381.3,105.7 385.3,114.5 389.1,125.6 392.4,138.9 396.2,125.6 400.1,123.4 403.5,116.8 407.5,115.6 411.2,117.9 415.0,121.2 418.6,132.3 422.3,116.8 426.1,101.2 430.1,103.4 433.9,142.3 437.4,121.2 441.2,103.4 445.0,92.4 448.3,96.8 452.3,83.5 456.1,83.5 459.6,92.4 463.4,85.7 467.2,75.7 470.7,75.7 474.5,74.6 478.3,70.2 481.8,75.7 485.6,72.4 489.3,76.8 493.3,61.3 497.1,72.4 500.0,76.8 500.0,76.2 504.4,78.4 508.3,80.6 512.0,76.2 515.8,68.5 519.7,87.1 523.4,102.5 527.4,93.7 531.1,89.3 535.0,91.5 538.8,98.1 542.7,84.9 546.4,78.4 550.4,82.7 554.3,80.6 558.0,84.9 561.3,100.3 565.3,80.6 569.0,71.8 572.7,71.8 576.6,67.4 579.9,65.2 583.6,93.7 587.2,100.3 590.9,105.7 594.6,113.4 598.5,109.0 602.3,111.2 606.2,102.5 609.9,101.4 613.4,98.1 617.2,93.7 620.9,91.5 624.8,93.7 628.8,91.5 632.5,95.9" fill="none" stroke="#2a8c1e" stroke-width="1.45" stroke-linejoin="round" stroke-dasharray="1.4 2.2"/>
<polyline points="361.8,89.0 365.8,91.2 369.5,94.6 373.5,117.9 377.5,96.8 381.3,96.8 385.3,90.1 389.1,75.7 392.4,77.9 396.2,69.1 400.1,84.6 403.5,67.9 407.5,63.5 411.2,72.4 415.0,74.6 419.0,81.3 422.3,93.5 426.1,90.1 430.1,83.5 433.9,81.3 437.4,87.9 441.2,109.0 445.0,117.9 448.3,86.8 452.3,83.5 456.1,69.1 459.6,70.2 463.4,65.7 467.2,62.4 470.7,63.5 474.5,66.8 478.3,65.7 481.8,61.3 485.6,64.6 489.3,62.4 493.3,60.2 497.1,54.6 500.0,41.3 500.0,38.9 504.4,60.8 508.3,82.7 512.0,95.9 515.8,87.1 519.7,82.7 523.4,74.0 527.4,100.3 531.1,93.7 535.0,80.6 538.8,70.7 542.7,65.2 546.4,78.4 550.4,74.0 554.3,80.6 558.0,80.6 561.3,69.6 565.3,67.4 569.0,65.2 572.7,60.8 576.6,58.7 579.9,102.5 583.6,97.0 587.2,86.0 590.9,93.7 594.6,93.7 598.5,93.7 602.3,95.9 606.2,93.7 609.9,98.1 613.4,95.9 617.2,103.5 620.9,98.1 624.8,80.6 628.8,86.0 632.5,100.3 636.2,105.7" fill="none" stroke="#ff2020" stroke-width="1.45" stroke-linejoin="round" stroke-dasharray="1.4 2.2"/>
<polyline points="361.8,79.0 365.8,76.8 369.5,72.4 373.5,75.7 377.5,74.6 381.3,83.5 385.3,87.9 389.1,83.5 392.4,84.6 396.2,77.9 400.1,72.4 403.5,76.8 407.5,69.1 411.2,63.5 415.0,59.1 419.0,79.0 422.3,86.8 426.1,96.8 430.1,104.6 433.9,106.8 437.4,107.9 441.2,99.0 445.0,87.9 448.3,83.5 452.3,86.8 456.1,83.5 459.6,76.8 463.4,71.3 467.2,67.9 470.7,66.8 474.5,65.7 478.3,67.9 481.8,64.6 485.6,59.1 489.3,55.7 493.3,65.7 497.1,71.3 500.0,72.4 500.0,71.8 504.4,76.2 508.3,80.6 512.0,70.7 515.8,66.3 519.7,82.7 523.4,84.9 527.4,87.1 531.1,82.7 535.0,93.7 538.8,84.9 542.7,80.6 546.4,67.4 550.4,70.7 554.3,75.1 558.0,80.6 561.3,78.4 565.3,71.8 569.0,78.4 572.7,83.8 576.6,78.4 579.9,64.1 583.6,84.9 587.2,93.7 590.9,91.5 594.6,93.7 598.5,100.3 602.3,95.9 606.2,91.5 609.9,89.3 613.4,92.6 617.2,95.9 620.9,93.7 624.8,90.4 628.8,94.8 632.5,93.7" fill="none" stroke="#2a8c1e" stroke-width="1.45" stroke-linejoin="round" stroke-dasharray="5.1 2.2"/>
<polyline points="361.8,86.8 365.8,82.4 369.5,80.1 373.5,87.9 377.5,84.6 381.3,81.3 385.3,87.9 389.1,75.7 392.4,82.4 396.2,84.6 400.1,83.5 403.5,80.1 407.5,79.0 411.2,72.4 415.0,77.9 419.0,80.1 422.3,80.1 426.1,79.0 430.1,75.7 433.9,71.3 437.4,80.1 441.2,75.7 445.0,84.6 448.3,89.0 452.3,77.9 456.1,64.6 459.6,69.1 463.4,67.9 467.2,64.6 470.7,70.2 474.5,64.6 478.3,63.5 481.8,61.3 485.6,59.1 489.3,61.3 493.3,56.8 497.1,55.7 500.0,56.8 500.0,63.0 504.4,65.2 508.3,71.8 512.0,87.1 515.8,91.5 519.7,79.5 523.4,82.7 527.4,102.5 531.1,81.6 535.0,64.1 538.8,71.8 542.7,78.4 546.4,86.0 550.4,103.5 554.3,110.8 558.0,82.7 561.3,78.4 565.3,80.6 569.0,81.6 572.7,88.2 576.6,91.5 579.9,88.2 583.6,84.9 587.2,90.4 590.9,91.5 594.6,93.7 598.5,91.5 602.3,89.3 606.2,87.1 609.9,88.2 613.4,93.7 617.2,90.4 620.9,84.9 624.8,79.5 628.8,88.2 632.5,93.7" fill="none" stroke="#ff2020" stroke-width="1.45" stroke-linejoin="round" stroke-dasharray="5.1 2.2"/>
<polyline points="361.8,95.7 365.8,61.3 369.5,56.4 373.5,84.6 377.5,93.5 381.3,90.1 385.3,96.8 389.1,103.4 392.4,95.7 396.2,89.0 399.7,96.8 403.5,97.2 407.5,95.7 411.2,104.6 415.0,112.8 418.6,120.1 422.3,121.2 426.1,123.0 430.1,107.9 433.9,124.5 437.4,110.1 441.2,103.4 445.0,97.9 448.3,90.6 452.3,95.7 456.1,87.5 459.6,104.6 463.4,92.4 467.2,79.0 470.7,90.1 474.5,77.9 478.3,71.3 481.8,74.6 485.6,73.5 489.3,81.3 493.3,50.2 497.1,56.8 500.0,67.9 500.0,56.5 504.4,75.1 508.3,77.3 512.0,74.0 515.8,68.5 519.7,90.4 523.4,113.0 527.4,91.5 531.1,78.4 535.0,111.2 538.8,87.1 542.7,80.6 546.4,74.0 550.4,82.7 554.3,87.1 558.0,74.0 561.3,79.5 565.3,69.6 569.0,80.6 572.7,89.3 576.6,70.7 579.9,84.9 583.6,93.7 587.2,95.9 590.9,101.4 594.6,114.5 598.5,128.3 602.3,106.8 606.2,90.4 609.9,93.7 613.4,77.3 617.2,91.5 620.9,98.1 624.8,94.8 628.8,92.6 632.5,83.2" fill="none" stroke="#2a8c1e" stroke-width="1.45" stroke-linejoin="round"/>
<polyline points="361.8,87.9 365.8,80.1 369.5,83.0 373.5,87.9 377.5,71.3 381.3,84.6 385.3,94.6 389.1,90.1 392.4,85.7 396.2,84.6 399.7,74.6 403.5,61.3 407.5,65.7 411.2,74.6 415.0,74.6 419.0,80.1 422.3,86.8 426.1,82.4 430.1,86.8 433.9,83.5 437.4,92.4 441.2,84.6 445.0,87.9 448.3,94.6 452.3,93.5 456.1,111.2 459.6,77.9 463.4,79.0 467.2,80.1 470.7,69.1 474.5,64.6 478.3,62.4 481.8,55.1 485.6,61.3 489.3,59.1 493.3,62.4 497.1,58.0 500.0,63.5 500.0,63.0 504.4,64.1 508.3,71.8 512.0,82.7 515.8,75.1 519.7,88.2 523.4,66.3 527.4,63.0 531.1,63.0 535.0,51.6 538.8,48.8 542.7,78.4 546.4,74.0 550.4,60.8 554.3,71.8 558.0,80.6 561.3,91.5 565.3,92.6 569.0,93.7 572.7,80.6 576.6,93.7 579.9,79.5 583.6,97.0 587.2,102.5 590.9,120.0 594.6,102.5 598.5,91.5 602.3,100.3 606.2,94.8 609.9,98.1 613.4,93.7 617.2,95.9 620.9,109.0 624.8,110.8 628.8,102.5 632.5,98.1 636.2,93.7" fill="none" stroke="#ff2020" stroke-width="1.45" stroke-linejoin="round"/>
<polyline points="361.8,36.9 365.8,44.6 369.5,41.3 373.5,62.4 377.5,54.6 381.3,34.2 385.3,50.2 389.1,53.5 392.4,56.4 396.2,49.7 399.7,44.0 403.5,51.3 407.5,46.9 411.2,46.9 415.0,48.4 418.6,56.8 422.3,61.3 426.1,59.1 430.1,55.7 433.9,55.1 437.4,65.3 441.2,65.7 445.0,64.6 448.3,67.9 452.3,79.0 456.1,80.1 459.6,72.4 463.4,64.6 467.2,63.1 470.7,69.1 474.5,66.8 478.3,61.3 481.8,69.1 485.6,64.6 489.3,63.9 493.3,75.7 497.1,74.6 500.0,80.1 500.0,81.6 504.4,70.7 508.3,94.8 512.0,87.1 515.8,75.1 519.7,58.7 523.4,60.8 527.4,59.8 531.1,63.0 535.0,79.5 538.8,80.6 542.7,72.9 546.0,52.5 549.9,59.8 553.6,54.7 557.4,64.1 561.3,65.2 565.0,64.1 568.5,76.2 572.3,71.8 576.0,67.4 579.9,60.8 583.6,64.1 587.2,54.3 590.9,65.2 594.6,64.1 598.5,56.5 602.3,65.7 606.2,63.0 609.9,61.9 613.4,47.7 617.2,49.9 620.9,62.6 624.8,59.8 628.8,53.2 632.5,46.0" fill="none" stroke="#000" stroke-width="1.45" stroke-linejoin="round"/>
<polyline points="361.8,178.0 365.8,171.3 369.5,169.1 373.5,179.1 377.5,181.3 381.3,180.8 385.3,183.5 389.1,186.8 392.4,187.9 396.2,189.1 400.1,191.3 403.5,192.4 407.5,194.6 411.2,201.3 415.0,199.0 419.0,187.9 422.3,199.0 426.1,211.2 430.1,227.9 433.9,243.4 437.4,227.9 441.2,232.3 445.0,263.4 448.3,236.8 452.3,231.2 456.1,230.1 459.6,239.0 463.4,225.7 467.2,216.8 470.7,202.4 474.5,199.0 478.3,197.9 481.8,196.8 485.6,194.6 489.3,191.3 493.3,190.2 497.1,189.1 500.0,187.9 500.0,179.8 504.4,183.0 508.3,178.7 512.0,180.8 515.8,179.8 519.7,180.8 523.4,178.7 527.4,177.6 531.1,178.7 535.0,177.6 538.8,176.5 542.7,178.7 546.4,179.8 550.4,185.2 554.3,180.8 558.0,183.0 561.3,180.8 565.3,184.1 569.0,185.2 572.7,184.1 576.6,185.2 579.9,183.0 583.6,183.0 587.2,177.6 590.9,175.4 594.6,180.8 598.5,184.1 602.3,186.3 606.2,177.6 609.9,185.2 613.4,186.3 617.2,183.0 620.9,176.5 624.8,180.8 628.8,178.7 632.5,177.6" fill="none" stroke="#2a8c1e" stroke-width="1.45" stroke-linejoin="round" stroke-dasharray="1.4 2.2"/>
<polyline points="361.8,181.3 365.8,174.6 369.5,173.5 373.5,175.7 377.5,179.1 381.3,181.3 385.3,184.6 389.1,184.6 392.4,181.3 396.2,168.0 400.1,183.5 403.5,180.2 407.5,176.8 411.2,178.0 415.0,187.9 419.0,185.7 422.3,186.8 426.1,185.7 430.1,195.7 433.9,194.6 437.4,201.3 441.2,206.8 445.0,201.3 448.3,202.4 452.3,204.6 456.1,205.7 459.6,212.4 463.4,207.9 467.2,204.6 470.7,205.7 474.5,203.5 478.3,200.1 481.8,197.9 485.6,195.7 489.3,192.4 493.3,189.1 497.1,186.8 500.0,186.8 500.0,178.7 504.4,180.8 508.3,179.8 512.0,178.7 515.8,178.7 519.7,177.6 523.4,178.7 527.4,176.5 531.1,177.6 535.0,176.5 538.8,175.4 542.7,177.6 546.4,178.7 550.4,181.9 554.3,180.8 558.0,179.8 561.3,180.8 565.3,183.0 569.0,185.2 572.7,184.1 576.6,184.1 579.9,185.2 583.6,186.3 587.2,187.4 590.9,177.6 594.6,172.1 598.5,183.0 602.3,186.3 606.2,187.4 609.9,188.5 613.4,187.4 617.2,185.2 620.9,179.8 624.8,181.9 628.8,180.8 632.5,178.7 635.8,178.2" fill="none" stroke="#ff2020" stroke-width="1.45" stroke-linejoin="round" stroke-dasharray="1.4 2.2"/>
<polyline points="361.8,180.8 365.8,176.8 369.5,181.3 373.5,182.4 377.5,183.5 381.3,184.6 385.3,185.7 389.1,186.8 392.4,184.6 396.2,187.9 400.1,189.1 403.5,190.2 407.5,192.4 411.2,200.1 415.0,199.0 419.0,202.4 422.3,203.5 426.1,207.9 430.1,209.0 433.9,212.4 437.4,211.2 441.2,203.5 445.0,204.6 448.3,207.9 452.3,215.7 456.1,210.1 459.6,203.5 463.4,193.5 467.2,202.4 470.7,200.1 474.5,199.0 478.3,196.8 481.8,194.6 485.6,191.3 489.3,187.9 493.3,185.7 497.1,184.6 500.0,184.6 500.0,181.9 504.4,180.8 508.3,183.0 512.0,184.1 515.8,181.9 519.7,180.8 523.4,180.8 527.4,179.8 531.1,178.7 535.0,180.4 538.8,180.8 542.7,179.8 546.4,180.8 550.4,181.9 554.3,181.9 558.0,180.8 561.3,183.0 565.3,185.2 569.0,184.1 572.7,183.0 576.6,184.1 579.9,185.2 583.6,186.3 587.2,185.2 590.9,186.3 594.6,187.4 598.5,187.0 602.3,188.5 606.2,189.6 609.9,187.0 613.4,188.5 617.2,186.3 620.9,186.3 624.8,187.0 628.8,186.3 632.5,185.2" fill="none" stroke="#2a8c1e" stroke-width="1.45" stroke-linejoin="round" stroke-dasharray="5.1 2.2"/>
<polyline points="361.8,183.1 365.8,185.7 369.5,187.5 373.5,183.5 377.5,186.8 381.3,190.2 385.3,186.8 389.1,189.1 392.4,190.6 396.2,187.9 400.1,190.2 403.5,191.3 407.5,193.5 411.2,194.6 415.0,197.9 419.0,201.3 422.3,203.5 426.1,207.5 430.1,206.8 433.9,203.5 437.4,202.4 441.2,203.5 445.0,197.9 448.3,200.1 452.3,195.7 456.1,193.5 459.6,191.3 463.4,192.4 467.2,189.1 470.7,191.3 474.5,190.2 478.3,186.8 481.8,185.7 485.6,184.6 489.3,183.5 493.3,183.5 497.1,183.9 500.0,182.4 500.0,180.8 504.4,179.8 508.3,180.8 512.0,180.8 515.8,179.8 519.7,179.8 523.4,178.7 527.4,178.7 531.1,177.6 535.0,178.7 538.8,178.7 542.7,178.7 546.4,179.8 550.4,180.8 554.3,181.9 558.0,183.0 561.3,181.9 565.3,185.2 569.0,186.3 572.7,185.2 576.6,184.8 579.9,185.2 583.6,185.7 587.2,184.8 590.9,184.1 594.6,184.1 598.5,184.8 602.3,186.3 606.2,187.0 609.9,186.3 613.4,187.0 617.2,187.4 620.9,187.0 624.8,185.7 628.8,185.7 632.5,185.2 634.7,184.8" fill="none" stroke="#ff2020" stroke-width="1.45" stroke-linejoin="round" stroke-dasharray="5.1 2.2"/>
<polyline points="361.8,180.2 365.8,183.5 369.5,181.3 373.5,176.8 377.5,178.0 381.3,177.3 385.3,180.2 389.1,182.4 392.4,183.5 396.2,182.4 399.7,184.6 403.5,183.5 407.5,182.4 411.2,190.2 415.0,197.9 418.6,201.3 422.3,204.6 426.1,206.8 430.1,212.4 433.9,226.8 437.4,233.4 441.2,236.8 445.0,233.4 448.3,244.5 452.3,230.1 456.1,231.2 459.6,232.3 463.4,224.6 467.2,221.2 470.7,214.6 474.5,220.1 478.3,210.1 481.8,202.4 485.6,197.9 489.3,194.6 493.3,189.1 497.1,192.4 500.0,195.7 500.0,194.0 504.4,189.6 508.3,194.0 512.0,189.6 515.8,187.4 519.7,185.2 523.4,183.0 527.4,181.9 531.1,181.9 535.0,185.2 538.8,183.0 542.7,179.8 546.4,179.8 550.4,180.8 554.3,181.9 558.0,181.9 561.3,184.1 565.3,186.3 569.0,185.2 572.7,183.0 576.6,181.9 579.9,183.0 583.6,185.2 587.2,186.3 590.9,187.0 594.6,187.4 598.5,186.3 602.3,189.6 606.2,190.7 609.9,187.4 613.4,186.3 617.2,183.0 620.9,183.0 624.8,180.8 628.8,178.7 632.5,178.7" fill="none" stroke="#2a8c1e" stroke-width="1.45" stroke-linejoin="round"/>
<polyline points="361.8,184.6 365.8,189.1 369.5,190.2 373.5,187.5 377.5,184.6 381.3,186.2 385.3,187.5 389.1,189.1 392.4,190.6 396.2,191.3 399.7,191.9 403.5,193.5 407.5,192.4 411.2,193.5 415.0,195.7 419.0,193.5 422.3,201.3 426.1,204.6 430.1,206.8 433.9,207.9 437.4,206.1 441.2,203.5 445.0,199.5 448.3,202.4 452.3,198.6 456.1,201.3 459.6,197.9 463.4,201.3 467.2,202.4 470.7,199.5 474.5,197.9 478.3,195.7 481.8,194.6 485.6,194.6 489.3,192.4 493.3,189.1 497.1,187.9 500.0,188.4 500.0,188.5 504.4,187.4 508.3,185.2 512.0,184.8 515.8,181.9 519.7,180.8 523.4,178.7 527.4,177.6 531.1,178.7 535.0,179.8 538.8,178.7 542.7,179.8 546.4,180.4 550.4,180.8 554.3,180.8 558.0,181.3 561.3,184.1 565.3,190.7 569.0,188.5 572.7,186.3 576.6,187.4 579.9,189.6 583.6,187.0 587.2,185.2 590.9,184.1 594.6,183.0 598.5,184.1 602.3,185.2 606.2,187.4 609.9,188.5 613.4,188.5 617.2,187.4 620.9,187.4 624.8,188.5 628.8,187.4 632.5,189.6 636.2,191.4" fill="none" stroke="#ff2020" stroke-width="1.45" stroke-linejoin="round"/>
<polyline points="361.8,159.5 365.8,160.2 369.5,159.5 373.5,155.8 377.5,160.2 381.3,162.4 385.3,161.8 389.1,158.0 392.4,156.4 396.2,161.3 399.7,161.8 403.5,158.7 407.5,163.5 411.2,160.2 415.0,162.4 418.6,164.6 422.3,168.0 426.1,164.6 430.1,170.2 433.9,169.1 437.4,168.4 441.2,179.5 445.0,179.5 448.3,180.8 452.3,182.4 456.1,180.2 459.6,183.9 463.4,181.7 467.2,179.1 470.7,180.8 474.5,183.5 478.3,182.4 481.8,182.4 485.6,180.2 489.3,176.8 493.3,179.1 497.1,175.7 500.0,176.4 500.0,176.0 504.4,173.2 508.3,171.6 512.0,171.0 515.8,168.1 519.7,166.6 523.4,162.2 527.4,157.9 531.1,155.0 535.0,154.1 538.8,158.5 542.7,162.2 546.0,168.1 549.9,169.5 553.6,169.9 557.4,168.8 561.3,168.8 565.0,168.1 568.5,168.8 572.3,168.8 576.0,167.7 579.9,169.5 583.6,167.7 587.2,166.0 590.9,163.3 594.6,161.6 598.5,160.0 602.3,155.0 606.2,157.9 609.9,156.8 613.4,157.9 617.2,154.1 620.9,155.7 624.8,157.9 628.8,158.9 632.5,157.9" fill="none" stroke="#000" stroke-width="1.45" stroke-linejoin="round"/>
<polyline points="361.8,306.8 365.8,305.7 369.5,305.3 373.5,306.8 377.5,304.6 381.3,302.4 385.3,302.4 389.1,302.4 392.4,301.3 396.2,301.7 400.1,306.8 403.5,311.3 407.5,313.5 411.2,312.4 415.0,313.5 419.0,314.6 422.3,316.8 426.1,320.1 430.1,325.7 433.9,336.8 437.4,345.7 441.2,355.6 445.0,370.1 448.3,382.3 452.3,361.2 456.1,334.6 459.6,341.2 463.4,349.0 467.2,352.3 470.7,344.6 474.5,339.0 478.3,332.4 481.8,336.8 485.6,341.2 489.3,334.6 493.3,325.7 497.1,322.4 500.0,320.1 500.0,327.1 504.4,322.7 508.3,319.5 512.0,317.3 515.8,315.1 519.7,314.0 523.4,312.9 527.4,311.8 531.1,311.8 535.0,311.4 538.8,310.7 542.7,310.0 546.4,308.5 550.4,307.4 554.3,306.3 558.0,306.3 561.3,304.1 565.3,303.0 569.0,301.9 572.7,300.8 576.6,303.0 579.9,315.1 583.6,310.7 587.2,307.4 590.9,306.3 594.6,305.2 598.5,308.5 602.3,314.0 606.2,317.3 609.9,310.7 613.4,309.6 617.2,308.5 620.9,306.3 624.8,305.2 628.8,304.1 632.5,303.0" fill="none" stroke="#2a8c1e" stroke-width="1.45" stroke-linejoin="round" stroke-dasharray="1.4 2.2"/>
<polyline points="361.8,307.5 365.8,306.8 369.5,305.7 373.5,305.3 377.5,304.6 381.3,304.6 385.3,304.6 389.1,305.7 392.4,306.8 396.2,307.9 400.1,305.7 403.5,303.5 407.5,307.9 411.2,305.7 415.0,296.8 419.0,305.7 422.3,309.1 426.1,310.2 430.1,313.5 433.9,322.4 437.4,313.5 441.2,304.6 445.0,319.0 448.3,327.9 452.3,335.7 456.1,319.0 459.6,327.9 463.4,327.9 467.2,332.4 470.7,333.5 474.5,332.4 478.3,327.9 481.8,327.9 485.6,323.5 489.3,322.4 493.3,319.0 497.1,317.9 500.0,316.8 500.0,317.3 504.4,316.2 508.3,314.0 512.0,312.9 515.8,311.8 519.7,311.8 523.4,310.7 527.4,312.9 531.1,311.8 535.0,310.7 538.8,309.6 542.7,309.6 546.4,308.5 550.4,309.6 554.3,308.5 558.0,307.4 561.3,307.4 565.3,306.3 569.0,305.2 572.7,303.0 576.6,301.9 579.9,299.8 583.6,303.0 587.2,304.1 590.9,306.3 594.6,308.5 598.5,306.3 602.3,307.4 606.2,305.2 609.9,306.3 613.4,307.4 617.2,307.4 620.9,307.0 624.8,305.2 628.8,306.3 632.5,307.0 635.8,307.9" fill="none" stroke="#ff2020" stroke-width="1.45" stroke-linejoin="round" stroke-dasharray="1.4 2.2"/>
<polyline points="361.8,304.6 365.8,303.5 369.5,303.9 373.5,305.3 377.5,306.2 381.3,303.5 385.3,303.9 389.1,305.7 392.4,305.7 396.2,306.8 400.1,307.5 403.5,310.2 407.5,312.4 411.2,314.6 415.0,313.5 419.0,314.6 422.3,316.8 426.1,321.3 430.1,326.8 433.9,334.6 437.4,341.2 441.2,343.4 445.0,343.4 448.3,341.2 452.3,337.9 456.1,332.4 459.6,329.0 463.4,326.8 467.2,329.0 470.7,330.1 474.5,327.9 478.3,325.7 481.8,324.6 485.6,322.4 489.3,320.1 493.3,319.0 497.1,317.9 500.0,316.8 500.0,319.5 504.4,317.3 508.3,316.2 512.0,315.7 515.8,315.1 519.7,314.0 523.4,314.0 527.4,312.9 531.1,312.9 535.0,311.8 538.8,311.4 542.7,311.8 546.4,311.4 550.4,310.0 554.3,309.6 558.0,310.7 561.3,309.6 565.3,309.6 569.0,308.5 572.7,308.5 576.6,309.6 579.9,308.5 583.6,308.5 587.2,307.4 590.9,307.9 594.6,307.4 598.5,307.4 602.3,307.9 606.2,308.5 609.9,308.5 613.4,308.5 617.2,307.9 620.9,307.4 624.8,307.0 628.8,307.0 632.5,307.4" fill="none" stroke="#2a8c1e" stroke-width="1.45" stroke-linejoin="round" stroke-dasharray="5.1 2.2"/>
<polyline points="361.8,310.2 365.8,309.1 369.5,307.9 373.5,307.5 377.5,305.7 381.3,304.6 385.3,304.6 389.1,305.7 392.4,307.5 396.2,307.9 400.1,309.1 403.5,310.6 407.5,312.4 411.2,313.5 415.0,313.5 419.0,316.8 422.3,320.1 426.1,322.4 430.1,325.7 433.9,327.9 437.4,330.1 441.2,333.5 445.0,329.0 448.3,327.9 452.3,330.1 456.1,327.9 459.6,325.7 463.4,323.5 467.2,322.4 470.7,321.3 474.5,320.1 478.3,318.6 481.8,317.9 485.6,317.9 489.3,317.3 493.3,316.8 497.1,315.7 500.0,315.0 500.0,317.3 504.4,316.2 508.3,317.3 512.0,315.1 515.8,315.1 519.7,314.0 523.4,310.7 527.4,310.7 531.1,310.7 535.0,311.8 538.8,310.7 542.7,310.7 546.4,311.8 550.4,311.8 554.3,310.7 558.0,310.7 561.3,310.7 565.3,315.1 569.0,315.1 572.7,314.4 576.6,312.9 579.9,311.8 583.6,310.7 587.2,311.4 590.9,311.8 594.6,312.9 598.5,312.9 602.3,311.4 606.2,309.6 609.9,309.2 613.4,309.6 617.2,308.5 620.9,308.5 624.8,307.9 628.8,307.4 632.5,307.9 634.7,307.4" fill="none" stroke="#ff2020" stroke-width="1.45" stroke-linejoin="round" stroke-dasharray="5.1 2.2"/>
<polyline points="361.8,304.6 365.8,303.5 369.5,303.1 373.5,303.5 377.5,303.5 381.3,299.1 385.3,303.5 389.1,304.6 392.4,305.7 396.2,306.8 399.7,305.3 403.5,301.3 407.5,298.0 411.2,296.8 415.0,300.2 418.6,306.8 422.3,313.5 426.1,312.4 430.1,310.2 433.9,317.9 437.4,327.9 441.2,343.4 445.0,359.0 448.3,371.8 452.3,363.4 456.1,335.7 459.6,341.2 463.4,352.3 467.2,350.1 470.7,337.9 474.5,346.8 478.3,346.8 481.8,346.8 485.6,341.2 489.3,334.6 493.3,326.8 497.1,325.7 500.0,322.4 500.0,326.0 504.4,323.8 508.3,319.5 512.0,321.6 515.8,318.4 519.7,315.1 523.4,318.4 527.4,318.4 531.1,315.1 535.0,316.2 538.8,317.9 542.7,317.9 546.4,316.6 550.4,311.4 554.3,309.6 558.0,310.7 561.3,308.5 565.3,312.9 569.0,308.5 572.7,300.4 576.6,304.1 579.9,306.3 583.6,304.1 587.2,302.6 590.9,307.4 594.6,307.4 598.5,301.9 602.3,301.9 606.2,307.4 609.9,311.8 613.4,308.5 617.2,309.6 620.9,308.5 624.8,307.4 628.8,305.7 632.5,306.3" fill="none" stroke="#2a8c1e" stroke-width="1.45" stroke-linejoin="round"/>
<polyline points="361.8,309.1 365.8,307.9 369.5,307.5 373.5,308.4 377.5,309.1 381.3,305.7 385.3,303.9 389.1,305.3 392.4,306.8 396.2,306.2 399.7,307.9 403.5,310.2 407.5,312.4 411.2,313.5 415.0,314.6 419.0,316.8 422.3,321.3 426.1,322.4 430.1,326.8 433.9,321.3 437.4,320.1 441.2,324.6 445.0,326.8 448.3,331.2 452.3,329.0 456.1,353.4 459.6,339.0 463.4,335.7 467.2,333.5 470.7,331.2 474.5,326.8 478.3,323.5 481.8,320.1 485.6,321.3 489.3,322.4 493.3,320.1 497.1,319.0 500.0,317.9 500.0,315.1 504.4,315.1 508.3,315.1 512.0,314.0 515.8,314.0 519.7,312.9 523.4,312.9 527.4,311.8 531.1,311.8 535.0,312.9 538.8,310.7 542.7,310.7 546.4,310.7 550.4,310.7 554.3,310.7 558.0,309.6 561.3,308.5 565.3,308.5 569.0,310.7 572.7,309.6 576.6,310.7 579.9,309.6 583.6,309.6 587.2,309.2 590.9,309.2 594.6,309.2 598.5,308.5 602.3,308.5 606.2,308.5 609.9,308.5 613.4,308.5 617.2,307.4 620.9,307.9 624.8,307.4 628.8,307.0 632.5,307.4 636.2,308.5" fill="none" stroke="#ff2020" stroke-width="1.45" stroke-linejoin="round"/>
<polyline points="361.8,286.9 365.8,288.0 369.5,287.5 373.5,288.4 377.5,284.6 381.3,284.6 385.3,282.4 389.1,277.3 392.4,274.7 396.2,274.7 399.7,274.7 403.5,281.8 407.5,279.1 411.2,276.9 415.0,278.7 418.6,288.0 422.3,285.3 426.1,287.5 430.1,284.0 433.9,285.8 437.4,285.8 441.2,290.2 445.0,297.3 448.3,300.8 452.3,301.7 456.1,303.5 459.6,306.8 463.4,307.9 467.2,307.5 470.7,309.1 474.5,309.7 478.3,311.9 481.8,310.2 485.6,308.4 489.3,309.1 493.3,306.2 497.1,305.7 500.0,303.9 500.0,304.8 504.4,302.6 508.3,300.8 512.0,300.8 515.8,300.4 519.7,300.8 523.4,301.9 527.4,300.8 531.1,298.7 535.0,299.8 538.8,298.7 542.7,296.0 546.0,293.2 549.9,292.5 553.6,293.2 557.4,293.8 561.3,297.6 565.0,296.5 568.5,293.2 572.3,286.6 576.0,287.3 579.9,285.5 583.6,291.0 587.2,293.8 590.9,286.6 594.6,283.3 598.5,286.6 602.3,287.7 606.2,289.9 609.9,290.3 613.4,288.1 617.2,288.8 620.9,286.0 624.8,283.8 628.8,285.1 632.5,288.1" fill="none" stroke="#000" stroke-width="1.45" stroke-linejoin="round"/>
<polyline points="361.8,476.6 365.8,477.8 369.5,478.9 373.5,468.9 377.5,476.6 381.3,474.4 385.3,460.0 388.6,445.6 392.4,467.8 396.2,456.7 399.7,471.1 403.5,475.5 407.5,471.1 411.2,477.8 415.0,473.3 419.0,478.9 422.3,482.2 426.1,474.4 430.1,484.4 433.9,486.6 437.4,497.7 441.2,495.5 445.0,482.2 448.3,472.2 452.3,464.4 456.1,443.4 459.6,455.6 463.4,466.7 467.2,482.2 470.7,474.4 474.5,464.4 478.3,462.2 481.8,482.2 485.6,473.3 490.0,446.2 493.3,455.6 497.1,468.9 500.0,473.3 500.0,464.5 504.4,465.6 508.3,481.0 512.0,485.4 515.8,484.3 519.7,475.5 523.4,463.5 527.4,478.8 531.1,483.2 535.0,481.0 538.8,485.4 542.7,483.2 546.4,481.0 550.4,477.7 554.3,479.9 558.0,481.0 561.3,476.6 565.3,476.6 569.0,472.2 572.7,470.0 576.6,467.8 579.9,472.2 583.6,470.0 587.2,467.8 590.9,472.2 594.6,467.8 598.5,470.0 602.3,465.6 606.2,454.7 609.9,437.2 613.4,465.6 617.2,479.9 620.9,474.4 624.8,472.2 628.8,465.6 632.5,462.4" fill="none" stroke="#2a8c1e" stroke-width="1.45" stroke-linejoin="round" stroke-dasharray="1.4 2.2"/>
<polyline points="361.8,477.8 365.8,478.9 369.5,476.6 373.5,475.5 377.5,482.2 381.3,480.0 385.3,477.8 389.1,473.3 392.4,472.2 396.2,476.6 400.1,482.2 403.5,481.1 407.5,480.0 411.2,482.2 415.0,478.9 419.0,480.0 422.3,481.1 426.1,482.2 430.1,480.0 433.9,477.8 437.4,484.4 441.2,486.6 445.0,488.9 448.3,482.2 452.3,483.3 456.1,473.3 459.6,482.2 463.4,484.4 467.2,482.2 470.7,483.3 474.5,484.4 478.3,482.2 481.8,483.3 485.6,484.4 489.3,483.3 493.3,482.2 497.1,483.3 500.0,484.4 500.0,483.2 504.4,485.4 508.3,486.4 512.0,489.7 515.8,490.8 519.7,488.6 523.4,489.7 527.4,491.9 531.1,491.9 535.0,489.7 538.8,490.8 542.7,489.7 546.4,490.8 550.4,491.9 554.3,489.7 558.0,487.5 561.3,488.6 565.3,489.7 569.0,491.9 572.7,489.7 576.6,487.5 579.9,486.4 583.6,488.6 587.2,490.8 590.9,488.6 594.6,496.3 598.5,489.7 602.3,485.4 606.2,466.7 609.9,485.4 613.4,482.1 617.2,481.0 620.9,478.8 624.8,483.2 628.8,472.2 632.5,481.0 635.8,483.2" fill="none" stroke="#ff2020" stroke-width="1.45" stroke-linejoin="round" stroke-dasharray="1.4 2.2"/>
<polyline points="361.8,472.2 365.8,480.0 369.5,478.9 373.5,470.0 377.5,468.9 381.3,477.8 385.3,475.5 389.1,473.3 392.4,472.2 396.2,467.8 400.1,471.1 403.5,472.2 407.5,476.6 411.2,474.4 415.0,468.9 419.0,466.7 422.3,470.0 426.1,480.0 430.1,484.4 433.9,483.3 437.4,487.7 441.2,490.0 445.0,502.2 448.3,484.4 452.3,477.8 456.1,473.3 459.6,476.6 463.4,482.2 467.2,488.9 470.7,483.3 474.5,478.9 478.3,482.2 481.8,482.2 485.6,484.4 489.3,474.4 493.3,481.1 497.1,482.2 500.0,484.4 500.0,476.6 504.4,478.8 508.3,481.0 512.0,483.2 515.8,483.2 519.7,482.1 523.4,481.0 527.4,481.0 531.1,482.1 535.0,483.2 538.8,482.1 542.7,482.1 546.4,483.2 550.4,482.1 554.3,481.0 558.0,478.8 561.3,481.0 565.3,476.6 569.0,478.8 572.7,475.5 576.6,474.4 579.9,473.3 583.6,471.1 587.2,468.9 590.9,476.6 594.6,472.2 598.5,476.6 602.3,479.9 606.2,476.6 609.9,473.3 613.4,472.2 617.2,481.0 620.9,476.6 624.8,478.8 628.8,474.4 632.5,459.1" fill="none" stroke="#2a8c1e" stroke-width="1.45" stroke-linejoin="round" stroke-dasharray="5.1 2.2"/>
<polyline points="361.8,478.9 365.8,476.6 369.5,477.8 373.5,480.0 377.5,482.2 381.3,484.4 385.3,485.5 389.1,484.4 392.4,483.3 396.2,486.6 400.1,486.6 403.5,487.7 407.5,485.5 411.2,484.4 415.0,487.7 419.0,486.6 422.3,485.5 426.1,486.6 430.1,487.7 433.9,491.1 437.4,487.7 441.2,487.7 445.0,486.6 448.3,490.0 452.3,485.5 456.1,493.3 459.6,487.7 463.4,486.6 467.2,487.7 470.7,486.6 474.5,486.6 478.3,486.6 481.8,485.5 485.6,486.6 489.3,486.6 493.3,487.7 497.1,486.6 500.0,486.6 500.0,486.4 504.4,485.4 508.3,486.4 512.0,487.5 515.8,487.5 519.7,486.4 523.4,488.6 527.4,487.5 531.1,487.5 535.0,486.4 538.8,488.6 542.7,488.6 546.4,487.5 550.4,487.5 554.3,487.5 558.0,486.4 561.3,485.4 565.3,487.5 569.0,488.6 572.7,487.5 576.6,487.5 579.9,486.4 583.6,485.4 587.2,483.2 590.9,485.4 594.6,487.5 598.5,483.2 602.3,482.1 606.2,481.0 609.9,481.0 613.4,483.2 617.2,485.4 620.9,487.5 624.8,481.0 628.8,478.8 632.5,479.9 634.7,481.0" fill="none" stroke="#ff2020" stroke-width="1.45" stroke-linejoin="round" stroke-dasharray="5.1 2.2"/>
<polyline points="361.8,470.0 365.8,463.3 369.5,458.9 373.5,465.6 377.5,467.8 381.3,451.6 385.3,461.1 389.1,453.4 392.4,468.9 396.2,461.1 399.7,475.5 403.5,470.0 407.5,476.6 411.2,472.2 415.0,466.7 418.6,475.5 422.3,473.3 426.1,480.0 430.1,483.3 433.9,477.8 437.4,460.0 441.2,484.4 445.0,480.0 448.3,470.0 452.3,472.2 456.1,474.4 459.6,484.4 463.4,472.2 467.2,456.7 470.7,473.3 474.5,470.0 478.3,440.5 481.8,481.1 485.6,456.7 489.3,467.8 493.3,475.5 497.1,471.1 500.0,474.4 500.0,476.6 504.4,474.4 508.3,481.0 512.0,484.3 515.8,479.9 519.7,478.8 523.4,479.9 527.4,478.8 531.1,477.7 535.0,485.4 538.8,485.4 542.7,482.1 546.4,478.8 550.4,476.6 554.3,485.4 558.0,473.3 561.3,456.9 565.0,468.9 568.5,448.1 572.3,444.8 576.0,438.3 579.9,478.8 583.6,474.4 587.2,478.8 590.9,456.9 594.6,472.2 598.5,471.1 602.3,456.9 606.2,448.1 609.9,443.7 613.4,430.6 617.2,478.8 620.9,464.5 624.8,463.5 628.8,472.2 632.5,476.6" fill="none" stroke="#2a8c1e" stroke-width="1.45" stroke-linejoin="round"/>
<polyline points="361.8,484.4 365.8,490.0 369.5,480.0 373.5,483.3 377.5,485.5 381.3,486.6 385.3,486.6 389.1,487.7 392.4,485.5 396.2,484.4 399.7,487.7 403.5,490.0 407.5,486.6 411.2,484.4 415.0,490.0 419.0,492.2 422.3,488.9 426.1,490.0 430.1,491.1 433.9,498.8 437.4,488.9 441.2,490.0 445.0,492.2 448.3,493.3 452.3,487.7 456.1,492.2 459.6,491.1 463.4,488.9 467.2,493.3 470.7,493.3 474.5,490.0 478.3,485.5 481.8,488.9 485.6,487.7 489.3,490.0 493.3,490.0 497.1,492.2 500.0,490.0 500.0,489.7 504.4,488.6 508.3,487.5 512.0,488.6 515.8,488.6 519.7,488.0 523.4,489.7 527.4,488.6 531.1,487.5 535.0,488.6 538.8,489.3 542.7,490.8 546.4,493.0 550.4,488.6 554.3,486.4 558.0,488.6 561.3,496.3 565.3,490.8 569.0,491.9 572.7,495.2 576.6,491.9 579.9,489.7 583.6,490.8 587.2,487.5 590.9,488.6 594.6,485.4 598.5,486.4 602.3,481.0 606.2,477.7 609.9,481.0 613.4,479.9 617.2,482.1 620.9,481.0 624.8,489.7 628.8,482.1 632.5,487.5 636.2,494.1" fill="none" stroke="#ff2020" stroke-width="1.45" stroke-linejoin="round"/>
<polyline points="361.8,469.3 365.8,471.5 369.5,475.5 373.5,405.0 377.5,446.7 381.3,476.6 385.3,473.3 389.1,462.2 392.4,470.0 396.2,462.2 399.7,424.5 403.5,405.0 407.5,441.1 411.2,444.5 415.0,451.1 418.6,456.7 422.3,395.7 426.1,427.8 430.1,460.0 433.9,463.3 437.4,443.4 441.2,424.5 445.0,444.5 448.3,395.2 452.3,426.7 456.1,442.3 459.6,439.6 463.4,451.1 467.2,449.4 470.7,421.2 474.5,421.8 478.3,454.5 481.8,446.2 485.6,476.6 489.3,471.1 493.3,464.0 497.1,471.1 500.0,474.4 500.0,474.8 504.4,480.5 508.3,476.6 512.0,475.5 515.8,458.0 519.7,470.5 523.4,473.3 527.4,470.5 531.1,479.2 535.0,472.2 538.8,477.0 542.7,472.6 546.0,439.4 549.9,475.5 553.6,467.8 557.4,430.2 561.3,455.8 565.0,446.4 568.5,458.6 572.3,458.6 576.0,443.3 579.9,461.3 583.6,443.7 587.2,460.8 590.9,448.6 594.6,436.7 598.5,442.0 602.3,449.2 606.2,435.0 609.9,403.9 613.4,452.5 617.2,474.8 620.9,463.5 624.8,432.8 628.8,457.3 632.5,477.7" fill="none" stroke="#000" stroke-width="1.45" stroke-linejoin="round"/>
<polyline points="361.8,582.2 365.8,585.6 369.5,580.0 373.5,574.5 377.5,578.9 381.3,591.1 385.3,591.1 389.1,593.3 392.4,596.6 396.2,595.5 399.7,601.1 403.5,600.0 407.5,592.2 411.2,602.2 415.0,603.3 419.0,604.4 422.3,602.2 426.1,603.3 430.1,601.1 433.9,602.2 437.4,604.4 441.2,607.7 445.0,611.1 448.3,613.3 452.3,612.2 456.1,613.3 459.6,612.2 463.4,613.3 467.2,614.4 470.7,612.2 474.5,612.8 478.3,613.3 481.8,610.0 485.6,612.2 489.3,613.3 493.3,612.2 497.1,613.3 500.0,613.7 500.0,614.1 504.4,608.6 508.3,607.5 512.0,609.7 515.8,610.8 519.7,611.9 523.4,607.5 527.4,605.8 531.1,604.9 535.0,606.4 538.8,609.7 542.7,608.6 546.4,606.4 550.4,603.2 554.3,604.3 558.0,605.4 561.3,604.3 565.3,602.1 569.0,599.9 572.7,598.8 576.6,587.8 579.9,582.4 583.6,582.4 587.2,591.1 590.9,598.8 594.6,591.1 598.5,583.5 602.3,579.1 606.2,572.5 609.9,568.1 613.4,561.6 617.2,562.6 620.9,565.9 624.8,571.4 628.8,574.7 632.5,579.1" fill="none" stroke="#2a8c1e" stroke-width="1.45" stroke-linejoin="round" stroke-dasharray="1.4 2.2"/>
<polyline points="361.8,603.3 365.8,602.2 369.5,603.3 373.5,604.4 377.5,606.6 381.3,607.7 385.3,608.9 389.1,610.0 392.4,611.1 396.2,612.2 400.1,613.3 403.5,614.4 407.5,615.5 411.2,615.1 415.0,616.6 419.0,617.3 422.3,616.6 426.1,617.7 430.1,617.3 433.9,616.6 437.4,617.3 441.2,616.6 445.0,615.5 448.3,616.6 452.3,617.3 456.1,618.2 459.6,618.8 463.4,618.8 467.2,619.5 470.7,619.9 474.5,620.4 478.3,621.1 481.8,621.1 485.6,622.2 489.3,621.1 493.3,621.1 497.1,621.7 500.0,621.1 500.0,619.6 504.4,620.7 508.3,621.8 512.0,621.1 515.8,620.2 519.7,619.6 523.4,618.5 527.4,618.1 531.1,617.4 535.0,616.3 538.8,617.4 542.7,618.1 546.4,617.4 550.4,616.7 554.3,616.3 558.0,615.9 561.3,616.3 565.3,616.7 569.0,615.9 572.7,615.2 576.6,613.7 579.9,612.4 583.6,611.9 587.2,610.2 590.9,609.7 594.6,606.4 598.5,605.4 602.3,601.0 606.2,597.7 609.9,596.6 613.4,592.2 617.2,594.8 620.9,596.6 624.8,595.5 628.8,597.7 632.5,598.8 636.2,598.8" fill="none" stroke="#ff2020" stroke-width="1.45" stroke-linejoin="round" stroke-dasharray="1.4 2.2"/>
<polyline points="361.8,599.5 365.8,596.6 369.5,594.4 373.5,595.1 377.5,596.6 381.3,598.9 385.3,602.2 389.1,604.4 392.4,605.5 396.2,607.7 400.1,610.0 403.5,611.5 407.5,613.3 411.2,612.2 415.0,613.3 419.0,614.4 422.3,615.1 426.1,616.0 430.1,615.1 433.9,614.4 437.4,613.3 441.2,612.8 445.0,613.7 448.3,613.3 452.3,614.4 456.1,613.3 459.6,615.1 463.4,615.5 467.2,615.1 470.7,615.5 474.5,616.0 478.3,615.1 481.8,615.5 485.6,616.0 489.3,616.6 493.3,617.3 497.1,617.7 500.0,617.7 500.0,618.5 504.4,619.6 508.3,620.7 512.0,618.1 515.8,617.4 519.7,618.5 523.4,618.5 527.4,618.1 531.1,617.4 535.0,616.7 538.8,615.9 542.7,613.7 546.4,616.3 550.4,617.4 554.3,616.7 558.0,616.3 561.3,615.2 565.3,615.9 569.0,615.2 572.7,616.3 576.6,613.7 579.9,614.1 583.6,614.1 587.2,612.4 590.9,610.8 594.6,610.8 598.5,609.7 602.3,606.4 606.2,604.3 609.9,601.0 613.4,601.0 617.2,599.9 620.9,596.6 624.8,591.8 628.8,592.2 632.5,593.3" fill="none" stroke="#2a8c1e" stroke-width="1.45" stroke-linejoin="round" stroke-dasharray="5.1 2.2"/>
<polyline points="361.8,615.1 365.8,612.2 369.5,613.3 373.5,615.1 377.5,616.6 381.3,617.7 385.3,617.7 389.1,617.7 392.4,618.2 396.2,617.7 400.1,616.6 403.5,615.5 407.5,615.1 411.2,616.0 415.0,615.5 419.0,615.1 422.3,615.5 426.1,616.6 430.1,617.7 433.9,618.8 437.4,619.5 441.2,618.8 445.0,618.8 448.3,618.2 452.3,617.3 456.1,617.7 459.6,618.2 463.4,618.8 467.2,619.5 470.7,619.9 474.5,620.4 478.3,619.9 481.8,621.1 485.6,620.4 489.3,619.9 493.3,620.4 497.1,621.1 500.0,619.5 500.0,621.1 504.4,621.8 508.3,621.1 512.0,621.8 515.8,621.1 519.7,620.7 523.4,620.2 527.4,620.7 531.1,619.6 535.0,618.9 538.8,619.6 542.7,619.6 546.4,620.2 550.4,619.6 554.3,620.7 558.0,621.1 561.3,620.2 565.3,619.6 569.0,619.6 572.7,618.9 576.6,618.5 579.9,618.1 583.6,618.5 587.2,617.4 590.9,616.7 594.6,617.4 598.5,616.7 602.3,616.3 606.2,616.3 609.9,615.9 613.4,615.9 617.2,614.1 620.9,612.4 624.8,613.7 628.8,615.2 632.5,615.9 636.2,616.3" fill="none" stroke="#ff2020" stroke-width="1.45" stroke-linejoin="round" stroke-dasharray="5.1 2.2"/>
<polyline points="361.8,584.4 365.8,587.1 369.5,581.8 373.5,579.6 377.5,581.1 381.3,580.5 385.3,589.3 389.1,592.2 392.4,591.5 396.2,594.4 399.7,597.3 403.5,602.2 407.5,603.3 411.2,604.4 415.0,599.5 418.6,594.4 422.3,598.9 426.1,605.5 430.1,606.6 433.9,608.4 437.4,610.0 441.2,613.3 445.0,613.3 448.3,608.9 452.3,606.6 456.1,606.6 459.6,607.7 463.4,607.7 467.2,613.3 470.7,615.1 474.5,615.5 478.3,615.1 481.8,613.3 485.6,615.5 489.3,617.7 493.3,617.3 497.1,617.7 500.0,617.7 500.0,616.3 504.4,613.7 508.3,614.1 512.0,613.7 515.8,614.1 519.7,613.0 523.4,611.9 527.4,610.2 531.1,610.8 535.0,612.4 538.8,610.2 542.7,608.6 546.4,607.5 550.4,605.8 554.3,604.9 558.0,607.5 561.3,608.6 565.3,606.4 569.0,601.0 572.7,601.0 576.6,596.2 579.9,599.9 583.6,599.9 587.2,590.5 590.9,578.6 594.6,582.4 598.5,576.4 602.3,578.6 606.2,582.4 609.9,579.1 613.4,580.2 617.2,579.1 620.9,572.5 624.8,572.9 628.8,572.9 632.5,551.0" fill="none" stroke="#2a8c1e" stroke-width="1.45" stroke-linejoin="round"/>
<polyline points="361.8,600.0 365.8,599.5 369.5,599.5 373.5,602.2 377.5,604.4 381.3,606.6 385.3,607.7 389.1,604.4 392.4,608.9 396.2,611.5 399.7,610.0 403.5,611.1 407.5,613.3 411.2,612.2 415.0,612.8 419.0,614.4 422.3,615.1 426.1,613.7 430.1,615.1 433.9,613.3 437.4,615.1 441.2,614.4 445.0,613.3 448.3,615.5 452.3,615.1 456.1,616.0 459.6,617.3 463.4,616.6 467.2,617.3 470.7,617.7 474.5,616.0 478.3,617.7 481.8,618.2 485.6,617.7 489.3,618.8 493.3,618.2 497.1,617.7 500.0,618.8 500.0,620.7 504.4,620.7 508.3,622.9 512.0,619.6 515.8,618.5 519.7,619.6 523.4,618.5 527.4,619.6 531.1,618.5 535.0,618.5 538.8,618.5 542.7,619.6 546.4,618.5 550.4,619.6 554.3,618.9 558.0,616.3 561.3,616.3 565.3,616.3 569.0,615.9 572.7,615.2 576.6,608.6 579.9,607.5 583.6,611.5 587.2,609.3 590.9,611.5 594.6,605.4 598.5,602.1 602.3,603.6 606.2,601.0 609.9,599.2 613.4,600.5 617.2,602.1 620.9,603.2 624.8,604.3 628.8,601.0 632.5,598.8 636.2,604.3" fill="none" stroke="#ff2020" stroke-width="1.45" stroke-linejoin="round"/>
<polyline points="361.8,524.1 365.8,515.7 369.5,525.6 373.5,534.5 377.5,532.3 381.3,525.0 385.3,547.8 389.1,556.7 392.4,548.9 396.2,552.3 399.7,558.9 403.5,565.6 407.5,575.1 411.2,571.6 415.0,580.0 418.6,587.1 422.3,580.5 426.1,590.0 430.1,582.2 433.9,569.4 437.4,576.7 441.2,586.7 445.0,597.3 448.3,597.3 452.3,589.3 456.1,592.9 459.6,591.1 463.4,587.1 467.2,597.8 470.7,600.4 474.5,596.6 478.3,590.0 481.8,597.3 485.6,596.6 489.3,596.6 493.3,597.3 497.1,598.2 500.0,597.8 500.0,597.7 504.4,597.7 508.3,598.3 512.0,596.6 515.8,594.4 519.7,592.2 523.4,594.4 527.4,596.6 531.1,597.0 535.0,596.6 538.8,595.5 542.7,593.3 546.0,590.5 549.9,591.1 553.6,587.8 557.4,590.0 561.3,586.7 565.0,583.5 568.5,579.1 572.3,580.8 576.0,578.0 579.9,573.6 583.6,566.4 587.2,572.9 590.9,574.3 594.6,553.9 598.5,550.6 602.3,558.3 606.2,550.2 609.9,551.0 613.4,530.9 617.2,521.0 620.9,532.6 624.8,553.2 628.8,533.1 632.5,528.7" fill="none" stroke="#000" stroke-width="1.45" stroke-linejoin="round"/>
<rect x="44" y="28" width="302" height="1" fill="#404040"/>
<rect x="44" y="147" width="302" height="3" fill="#787878"/>
<rect x="44" y="268" width="302" height="2" fill="#363636"/>
<rect x="44" y="388" width="302" height="1" fill="#555555"/>
<rect x="44" y="389" width="302" height="2" fill="#9c9c9c"/>
<rect x="44" y="509" width="302" height="2" fill="#3c3c3c"/>
<rect x="44" y="629" width="302" height="1" fill="#404040"/>
<rect x="348" y="28" width="302" height="1" fill="#404040"/>
<rect x="348" y="147" width="302" height="3" fill="#787878"/>
<rect x="348" y="268" width="302" height="2" fill="#363636"/>
<rect x="348" y="388" width="302" height="1" fill="#555555"/>
<rect x="348" y="389" width="302" height="2" fill="#9c9c9c"/>
<rect x="348" y="509" width="302" height="2" fill="#3c3c3c"/>
<rect x="348" y="629" width="302" height="1" fill="#404040"/>
<rect x="44" y="29" width="1" height="118" fill="#404040"/>
<rect x="43" y="150" width="1" height="118" fill="#909090"/>
<rect x="44" y="150" width="1" height="118" fill="#262626"/>
<rect x="43" y="270" width="2" height="118" fill="#1c1c1c"/>
<rect x="43" y="391" width="2" height="118" fill="#050505"/>
<rect x="43" y="511" width="2" height="118" fill="#000000"/>
<rect x="345" y="28" width="1" height="602" fill="#555555"/>
<rect x="348" y="28" width="1" height="602" fill="#555555"/>
<rect x="649" y="28" width="1" height="602" fill="#555555"/>
<line x1="58.30" y1="148.10" x2="58.30" y2="149.80" stroke="#222" stroke-width="1.0"/>
<line x1="95.76" y1="148.10" x2="95.76" y2="149.80" stroke="#222" stroke-width="1.0"/>
<line x1="133.23" y1="148.10" x2="133.23" y2="149.80" stroke="#222" stroke-width="1.0"/>
<line x1="170.69" y1="148.10" x2="170.69" y2="149.80" stroke="#222" stroke-width="1.0"/>
<line x1="208.16" y1="148.10" x2="208.16" y2="149.80" stroke="#222" stroke-width="1.0"/>
<line x1="245.62" y1="148.10" x2="245.62" y2="149.80" stroke="#222" stroke-width="1.0"/>
<line x1="283.09" y1="148.10" x2="283.09" y2="149.80" stroke="#222" stroke-width="1.0"/>
<line x1="320.56" y1="148.10" x2="320.56" y2="149.80" stroke="#222" stroke-width="1.0"/>
<line x1="77.03" y1="148.10" x2="77.03" y2="149.60" stroke="#333" stroke-width="0.8"/>
<line x1="114.50" y1="148.10" x2="114.50" y2="149.60" stroke="#333" stroke-width="0.8"/>
<line x1="151.96" y1="148.10" x2="151.96" y2="149.60" stroke="#333" stroke-width="0.8"/>
<line x1="189.43" y1="148.10" x2="189.43" y2="149.60" stroke="#333" stroke-width="0.8"/>
<line x1="226.89" y1="148.10" x2="226.89" y2="149.60" stroke="#333" stroke-width="0.8"/>
<line x1="264.36" y1="148.10" x2="264.36" y2="149.60" stroke="#333" stroke-width="0.8"/>
<line x1="301.82" y1="148.10" x2="301.82" y2="149.60" stroke="#333" stroke-width="0.8"/>
<line x1="339.29" y1="148.10" x2="339.29" y2="149.60" stroke="#333" stroke-width="0.8"/>
<line x1="41.10" y1="30.70" x2="44.50" y2="30.70" stroke="#222" stroke-width="1.0"/>
<text x="31.39" y="34.70" font-size="11.5" fill="#000" stroke="#000" stroke-width="0.3" textLength="7.10" lengthAdjust="spacingAndGlyphs">8</text>
<line x1="41.10" y1="58.90" x2="44.50" y2="58.90" stroke="#222" stroke-width="1.0"/>
<text x="31.24" y="62.90" font-size="11.5" fill="#000" stroke="#000" stroke-width="0.3" textLength="7.34" lengthAdjust="spacingAndGlyphs">6</text>
<line x1="41.10" y1="87.10" x2="44.50" y2="87.10" stroke="#222" stroke-width="1.0"/>
<text x="31.26" y="91.10" font-size="11.5" fill="#000" stroke="#000" stroke-width="0.3" textLength="6.91" lengthAdjust="spacingAndGlyphs">4</text>
<line x1="41.10" y1="115.40" x2="44.50" y2="115.40" stroke="#222" stroke-width="1.0"/>
<text x="31.85" y="119.40" font-size="11.5" fill="#000" stroke="#000" stroke-width="0.3" textLength="6.73" lengthAdjust="spacingAndGlyphs">2</text>
<line x1="41.10" y1="143.60" x2="44.50" y2="143.60" stroke="#222" stroke-width="1.0"/>
<text x="30.95" y="147.60" font-size="11.5" fill="#000" stroke="#000" stroke-width="0.3" textLength="7.72" lengthAdjust="spacingAndGlyphs">0</text>
<line x1="42.70" y1="136.54" x2="44.50" y2="136.54" stroke="#333" stroke-width="0.8"/>
<line x1="42.70" y1="129.49" x2="44.50" y2="129.49" stroke="#333" stroke-width="0.8"/>
<line x1="42.70" y1="122.43" x2="44.50" y2="122.43" stroke="#333" stroke-width="0.8"/>
<line x1="42.70" y1="108.32" x2="44.50" y2="108.32" stroke="#333" stroke-width="0.8"/>
<line x1="42.70" y1="101.26" x2="44.50" y2="101.26" stroke="#333" stroke-width="0.8"/>
<line x1="42.70" y1="94.21" x2="44.50" y2="94.21" stroke="#333" stroke-width="0.8"/>
<line x1="42.70" y1="80.09" x2="44.50" y2="80.09" stroke="#333" stroke-width="0.8"/>
<line x1="42.70" y1="73.04" x2="44.50" y2="73.04" stroke="#333" stroke-width="0.8"/>
<line x1="42.70" y1="65.98" x2="44.50" y2="65.98" stroke="#333" stroke-width="0.8"/>
<line x1="42.70" y1="51.87" x2="44.50" y2="51.87" stroke="#333" stroke-width="0.8"/>
<line x1="42.70" y1="44.81" x2="44.50" y2="44.81" stroke="#333" stroke-width="0.8"/>
<line x1="42.70" y1="37.76" x2="44.50" y2="37.76" stroke="#333" stroke-width="0.8"/>
<text x="47.90" y="38.40" font-size="11.5" fill="#000" stroke="#000" stroke-width="0.3" textLength="12.11" lengthAdjust="spacingAndGlyphs">a)</text>
<line x1="58.30" y1="268.30" x2="58.30" y2="270.00" stroke="#222" stroke-width="1.0"/>
<line x1="95.76" y1="268.30" x2="95.76" y2="270.00" stroke="#222" stroke-width="1.0"/>
<line x1="133.23" y1="268.30" x2="133.23" y2="270.00" stroke="#222" stroke-width="1.0"/>
<line x1="170.69" y1="268.30" x2="170.69" y2="270.00" stroke="#222" stroke-width="1.0"/>
<line x1="208.16" y1="268.30" x2="208.16" y2="270.00" stroke="#222" stroke-width="1.0"/>
<line x1="245.62" y1="268.30" x2="245.62" y2="270.00" stroke="#222" stroke-width="1.0"/>
<line x1="283.09" y1="268.30" x2="283.09" y2="270.00" stroke="#222" stroke-width="1.0"/>
<line x1="320.56" y1="268.30" x2="320.56" y2="270.00" stroke="#222" stroke-width="1.0"/>
<line x1="77.03" y1="268.30" x2="77.03" y2="269.80" stroke="#333" stroke-width="0.8"/>
<line x1="114.50" y1="268.30" x2="114.50" y2="269.80" stroke="#333" stroke-width="0.8"/>
<line x1="151.96" y1="268.30" x2="151.96" y2="269.80" stroke="#333" stroke-width="0.8"/>
<line x1="189.43" y1="268.30" x2="189.43" y2="269.80" stroke="#333" stroke-width="0.8"/>
<line x1="226.89" y1="268.30" x2="226.89" y2="269.80" stroke="#333" stroke-width="0.8"/>
<line x1="264.36" y1="268.30" x2="264.36" y2="269.80" stroke="#333" stroke-width="0.8"/>
<line x1="301.82" y1="268.30" x2="301.82" y2="269.80" stroke="#333" stroke-width="0.8"/>
<line x1="339.29" y1="268.30" x2="339.29" y2="269.80" stroke="#333" stroke-width="0.8"/>
<line x1="41.10" y1="174.50" x2="44.50" y2="174.50" stroke="#222" stroke-width="1.0"/>
<text x="23.71" y="178.50" font-size="11.5" fill="#000" stroke="#000" stroke-width="0.3" textLength="14.94" lengthAdjust="spacingAndGlyphs">10</text>
<line x1="41.10" y1="202.60" x2="44.50" y2="202.60" stroke="#222" stroke-width="1.0"/>
<text x="30.95" y="206.60" font-size="11.5" fill="#000" stroke="#000" stroke-width="0.3" textLength="7.72" lengthAdjust="spacingAndGlyphs">0</text>
<line x1="41.10" y1="230.70" x2="44.50" y2="230.70" stroke="#222" stroke-width="1.0"/>
<text x="14.68" y="234.70" font-size="11.5" fill="#000" stroke="#000" stroke-width="0.3" textLength="24.00" lengthAdjust="spacingAndGlyphs">−10</text>
<line x1="41.10" y1="258.80" x2="44.50" y2="258.80" stroke="#222" stroke-width="1.0"/>
<text x="14.68" y="262.80" font-size="11.5" fill="#000" stroke="#000" stroke-width="0.3" textLength="24.00" lengthAdjust="spacingAndGlyphs">−20</text>
<line x1="42.70" y1="267.23" x2="44.50" y2="267.23" stroke="#333" stroke-width="0.8"/>
<line x1="42.70" y1="264.42" x2="44.50" y2="264.42" stroke="#333" stroke-width="0.8"/>
<line x1="42.70" y1="261.61" x2="44.50" y2="261.61" stroke="#333" stroke-width="0.8"/>
<line x1="42.70" y1="255.99" x2="44.50" y2="255.99" stroke="#333" stroke-width="0.8"/>
<line x1="42.70" y1="253.18" x2="44.50" y2="253.18" stroke="#333" stroke-width="0.8"/>
<line x1="42.70" y1="250.37" x2="44.50" y2="250.37" stroke="#333" stroke-width="0.8"/>
<line x1="42.70" y1="247.56" x2="44.50" y2="247.56" stroke="#333" stroke-width="0.8"/>
<line x1="42.70" y1="244.75" x2="44.50" y2="244.75" stroke="#333" stroke-width="0.8"/>
<line x1="42.70" y1="241.94" x2="44.50" y2="241.94" stroke="#333" stroke-width="0.8"/>
<line x1="42.70" y1="239.13" x2="44.50" y2="239.13" stroke="#333" stroke-width="0.8"/>
<line x1="42.70" y1="236.32" x2="44.50" y2="236.32" stroke="#333" stroke-width="0.8"/>
<line x1="42.70" y1="233.51" x2="44.50" y2="233.51" stroke="#333" stroke-width="0.8"/>
<line x1="42.70" y1="227.89" x2="44.50" y2="227.89" stroke="#333" stroke-width="0.8"/>
<line x1="42.70" y1="225.08" x2="44.50" y2="225.08" stroke="#333" stroke-width="0.8"/>
<line x1="42.70" y1="222.27" x2="44.50" y2="222.27" stroke="#333" stroke-width="0.8"/>
<line x1="42.70" y1="219.46" x2="44.50" y2="219.46" stroke="#333" stroke-width="0.8"/>
<line x1="42.70" y1="216.65" x2="44.50" y2="216.65" stroke="#333" stroke-width="0.8"/>
<line x1="42.70" y1="213.84" x2="44.50" y2="213.84" stroke="#333" stroke-width="0.8"/>
<line x1="42.70" y1="211.03" x2="44.50" y2="211.03" stroke="#333" stroke-width="0.8"/>
<line x1="42.70" y1="208.22" x2="44.50" y2="208.22" stroke="#333" stroke-width="0.8"/>
<line x1="42.70" y1="205.41" x2="44.50" y2="205.41" stroke="#333" stroke-width="0.8"/>
<line x1="42.70" y1="199.79" x2="44.50" y2="199.79" stroke="#333" stroke-width="0.8"/>
<line x1="42.70" y1="196.98" x2="44.50" y2="196.98" stroke="#333" stroke-width="0.8"/>
<line x1="42.70" y1="194.17" x2="44.50" y2="194.17" stroke="#333" stroke-width="0.8"/>
<line x1="42.70" y1="191.36" x2="44.50" y2="191.36" stroke="#333" stroke-width="0.8"/>
<line x1="42.70" y1="188.55" x2="44.50" y2="188.55" stroke="#333" stroke-width="0.8"/>
<line x1="42.70" y1="185.74" x2="44.50" y2="185.74" stroke="#333" stroke-width="0.8"/>
<line x1="42.70" y1="182.93" x2="44.50" y2="182.93" stroke="#333" stroke-width="0.8"/>
<line x1="42.70" y1="180.12" x2="44.50" y2="180.12" stroke="#333" stroke-width="0.8"/>
<line x1="42.70" y1="177.31" x2="44.50" y2="177.31" stroke="#333" stroke-width="0.8"/>
<line x1="42.70" y1="171.69" x2="44.50" y2="171.69" stroke="#333" stroke-width="0.8"/>
<line x1="42.70" y1="168.88" x2="44.50" y2="168.88" stroke="#333" stroke-width="0.8"/>
<line x1="42.70" y1="166.07" x2="44.50" y2="166.07" stroke="#333" stroke-width="0.8"/>
<line x1="42.70" y1="163.26" x2="44.50" y2="163.26" stroke="#333" stroke-width="0.8"/>
<line x1="42.70" y1="160.45" x2="44.50" y2="160.45" stroke="#333" stroke-width="0.8"/>
<line x1="42.70" y1="157.64" x2="44.50" y2="157.64" stroke="#333" stroke-width="0.8"/>
<line x1="42.70" y1="154.83" x2="44.50" y2="154.83" stroke="#333" stroke-width="0.8"/>
<line x1="42.70" y1="152.02" x2="44.50" y2="152.02" stroke="#333" stroke-width="0.8"/>
<text x="47.42" y="158.50" font-size="11.5" fill="#000" stroke="#000" stroke-width="0.3" textLength="12.57" lengthAdjust="spacingAndGlyphs">b)</text>
<line x1="58.30" y1="388.40" x2="58.30" y2="390.10" stroke="#222" stroke-width="1.0"/>
<line x1="95.76" y1="388.40" x2="95.76" y2="390.10" stroke="#222" stroke-width="1.0"/>
<line x1="133.23" y1="388.40" x2="133.23" y2="390.10" stroke="#222" stroke-width="1.0"/>
<line x1="170.69" y1="388.40" x2="170.69" y2="390.10" stroke="#222" stroke-width="1.0"/>
<line x1="208.16" y1="388.40" x2="208.16" y2="390.10" stroke="#222" stroke-width="1.0"/>
<line x1="245.62" y1="388.40" x2="245.62" y2="390.10" stroke="#222" stroke-width="1.0"/>
<line x1="283.09" y1="388.40" x2="283.09" y2="390.10" stroke="#222" stroke-width="1.0"/>
<line x1="320.56" y1="388.40" x2="320.56" y2="390.10" stroke="#222" stroke-width="1.0"/>
<line x1="77.03" y1="388.40" x2="77.03" y2="389.90" stroke="#333" stroke-width="0.8"/>
<line x1="114.50" y1="388.40" x2="114.50" y2="389.90" stroke="#333" stroke-width="0.8"/>
<line x1="151.96" y1="388.40" x2="151.96" y2="389.90" stroke="#333" stroke-width="0.8"/>
<line x1="189.43" y1="388.40" x2="189.43" y2="389.90" stroke="#333" stroke-width="0.8"/>
<line x1="226.89" y1="388.40" x2="226.89" y2="389.90" stroke="#333" stroke-width="0.8"/>
<line x1="264.36" y1="388.40" x2="264.36" y2="389.90" stroke="#333" stroke-width="0.8"/>
<line x1="301.82" y1="388.40" x2="301.82" y2="389.90" stroke="#333" stroke-width="0.8"/>
<line x1="339.29" y1="388.40" x2="339.29" y2="389.90" stroke="#333" stroke-width="0.8"/>
<line x1="41.10" y1="286.80" x2="44.50" y2="286.80" stroke="#222" stroke-width="1.0"/>
<text x="23.61" y="290.80" font-size="11.5" fill="#000" stroke="#000" stroke-width="0.3" textLength="15.05" lengthAdjust="spacingAndGlyphs">40</text>
<line x1="41.10" y1="312.70" x2="44.50" y2="312.70" stroke="#222" stroke-width="1.0"/>
<text x="23.72" y="316.70" font-size="11.5" fill="#000" stroke="#000" stroke-width="0.3" textLength="14.93" lengthAdjust="spacingAndGlyphs">20</text>
<line x1="41.10" y1="338.60" x2="44.50" y2="338.60" stroke="#222" stroke-width="1.0"/>
<text x="30.95" y="342.60" font-size="11.5" fill="#000" stroke="#000" stroke-width="0.3" textLength="7.72" lengthAdjust="spacingAndGlyphs">0</text>
<line x1="41.10" y1="364.50" x2="44.50" y2="364.50" stroke="#222" stroke-width="1.0"/>
<text x="14.68" y="368.50" font-size="11.5" fill="#000" stroke="#000" stroke-width="0.3" textLength="24.00" lengthAdjust="spacingAndGlyphs">−20</text>
<line x1="42.70" y1="383.92" x2="44.50" y2="383.92" stroke="#333" stroke-width="0.8"/>
<line x1="42.70" y1="377.45" x2="44.50" y2="377.45" stroke="#333" stroke-width="0.8"/>
<line x1="42.70" y1="370.98" x2="44.50" y2="370.98" stroke="#333" stroke-width="0.8"/>
<line x1="42.70" y1="358.02" x2="44.50" y2="358.02" stroke="#333" stroke-width="0.8"/>
<line x1="42.70" y1="351.55" x2="44.50" y2="351.55" stroke="#333" stroke-width="0.8"/>
<line x1="42.70" y1="345.07" x2="44.50" y2="345.07" stroke="#333" stroke-width="0.8"/>
<line x1="42.70" y1="332.12" x2="44.50" y2="332.12" stroke="#333" stroke-width="0.8"/>
<line x1="42.70" y1="325.65" x2="44.50" y2="325.65" stroke="#333" stroke-width="0.8"/>
<line x1="42.70" y1="319.18" x2="44.50" y2="319.18" stroke="#333" stroke-width="0.8"/>
<line x1="42.70" y1="306.23" x2="44.50" y2="306.23" stroke="#333" stroke-width="0.8"/>
<line x1="42.70" y1="299.75" x2="44.50" y2="299.75" stroke="#333" stroke-width="0.8"/>
<line x1="42.70" y1="293.28" x2="44.50" y2="293.28" stroke="#333" stroke-width="0.8"/>
<line x1="42.70" y1="280.32" x2="44.50" y2="280.32" stroke="#333" stroke-width="0.8"/>
<line x1="42.70" y1="273.85" x2="44.50" y2="273.85" stroke="#333" stroke-width="0.8"/>
<text x="47.81" y="278.70" font-size="11.5" fill="#000" stroke="#000" stroke-width="0.3" textLength="11.25" lengthAdjust="spacingAndGlyphs">c)</text>
<line x1="58.30" y1="508.60" x2="58.30" y2="510.30" stroke="#222" stroke-width="1.0"/>
<line x1="95.76" y1="508.60" x2="95.76" y2="510.30" stroke="#222" stroke-width="1.0"/>
<line x1="133.23" y1="508.60" x2="133.23" y2="510.30" stroke="#222" stroke-width="1.0"/>
<line x1="170.69" y1="508.60" x2="170.69" y2="510.30" stroke="#222" stroke-width="1.0"/>
<line x1="208.16" y1="508.60" x2="208.16" y2="510.30" stroke="#222" stroke-width="1.0"/>
<line x1="245.62" y1="508.60" x2="245.62" y2="510.30" stroke="#222" stroke-width="1.0"/>
<line x1="283.09" y1="508.60" x2="283.09" y2="510.30" stroke="#222" stroke-width="1.0"/>
<line x1="320.56" y1="508.60" x2="320.56" y2="510.30" stroke="#222" stroke-width="1.0"/>
<line x1="77.03" y1="508.60" x2="77.03" y2="510.10" stroke="#333" stroke-width="0.8"/>
<line x1="114.50" y1="508.60" x2="114.50" y2="510.10" stroke="#333" stroke-width="0.8"/>
<line x1="151.96" y1="508.60" x2="151.96" y2="510.10" stroke="#333" stroke-width="0.8"/>
<line x1="189.43" y1="508.60" x2="189.43" y2="510.10" stroke="#333" stroke-width="0.8"/>
<line x1="226.89" y1="508.60" x2="226.89" y2="510.10" stroke="#333" stroke-width="0.8"/>
<line x1="264.36" y1="508.60" x2="264.36" y2="510.10" stroke="#333" stroke-width="0.8"/>
<line x1="301.82" y1="508.60" x2="301.82" y2="510.10" stroke="#333" stroke-width="0.8"/>
<line x1="339.29" y1="508.60" x2="339.29" y2="510.10" stroke="#333" stroke-width="0.8"/>
<line x1="41.10" y1="404.10" x2="44.50" y2="404.10" stroke="#222" stroke-width="1.0"/>
<text x="16.09" y="408.10" font-size="11.5" fill="#000" stroke="#000" stroke-width="0.3" textLength="22.56" lengthAdjust="spacingAndGlyphs">300</text>
<line x1="41.10" y1="435.90" x2="44.50" y2="435.90" stroke="#222" stroke-width="1.0"/>
<text x="16.07" y="439.90" font-size="11.5" fill="#000" stroke="#000" stroke-width="0.3" textLength="22.59" lengthAdjust="spacingAndGlyphs">200</text>
<line x1="41.10" y1="467.70" x2="44.50" y2="467.70" stroke="#222" stroke-width="1.0"/>
<text x="16.05" y="471.70" font-size="11.5" fill="#000" stroke="#000" stroke-width="0.3" textLength="22.60" lengthAdjust="spacingAndGlyphs">100</text>
<line x1="41.10" y1="499.50" x2="44.50" y2="499.50" stroke="#222" stroke-width="1.0"/>
<text x="30.95" y="503.50" font-size="11.5" fill="#000" stroke="#000" stroke-width="0.3" textLength="7.72" lengthAdjust="spacingAndGlyphs">0</text>
<text x="47.75" y="398.80" font-size="11.5" fill="#000" stroke="#000" stroke-width="0.3" textLength="12.68" lengthAdjust="spacingAndGlyphs">d)</text>
<line x1="58.30" y1="629.00" x2="58.30" y2="632.70" stroke="#222" stroke-width="1.0"/>
<line x1="95.76" y1="629.00" x2="95.76" y2="632.70" stroke="#222" stroke-width="1.0"/>
<line x1="133.23" y1="629.00" x2="133.23" y2="632.70" stroke="#222" stroke-width="1.0"/>
<line x1="170.69" y1="629.00" x2="170.69" y2="632.70" stroke="#222" stroke-width="1.0"/>
<line x1="208.16" y1="629.00" x2="208.16" y2="632.70" stroke="#222" stroke-width="1.0"/>
<line x1="245.62" y1="629.00" x2="245.62" y2="632.70" stroke="#222" stroke-width="1.0"/>
<line x1="283.09" y1="629.00" x2="283.09" y2="632.70" stroke="#222" stroke-width="1.0"/>
<line x1="320.56" y1="629.00" x2="320.56" y2="632.70" stroke="#222" stroke-width="1.0"/>
<line x1="77.03" y1="629.00" x2="77.03" y2="631.30" stroke="#333" stroke-width="0.8"/>
<line x1="114.50" y1="629.00" x2="114.50" y2="631.30" stroke="#333" stroke-width="0.8"/>
<line x1="151.96" y1="629.00" x2="151.96" y2="631.30" stroke="#333" stroke-width="0.8"/>
<line x1="189.43" y1="629.00" x2="189.43" y2="631.30" stroke="#333" stroke-width="0.8"/>
<line x1="226.89" y1="629.00" x2="226.89" y2="631.30" stroke="#333" stroke-width="0.8"/>
<line x1="264.36" y1="629.00" x2="264.36" y2="631.30" stroke="#333" stroke-width="0.8"/>
<line x1="301.82" y1="629.00" x2="301.82" y2="631.30" stroke="#333" stroke-width="0.8"/>
<line x1="339.29" y1="629.00" x2="339.29" y2="631.30" stroke="#333" stroke-width="0.8"/>
<line x1="41.10" y1="519.50" x2="44.50" y2="519.50" stroke="#222" stroke-width="1.0"/>
<text x="16.09" y="523.50" font-size="11.5" fill="#000" stroke="#000" stroke-width="0.3" textLength="22.56" lengthAdjust="spacingAndGlyphs">300</text>
<line x1="41.10" y1="554.30" x2="44.50" y2="554.30" stroke="#222" stroke-width="1.0"/>
<text x="16.07" y="558.30" font-size="11.5" fill="#000" stroke="#000" stroke-width="0.3" textLength="22.59" lengthAdjust="spacingAndGlyphs">200</text>
<line x1="41.10" y1="589.10" x2="44.50" y2="589.10" stroke="#222" stroke-width="1.0"/>
<text x="16.05" y="593.10" font-size="11.5" fill="#000" stroke="#000" stroke-width="0.3" textLength="22.60" lengthAdjust="spacingAndGlyphs">100</text>
<line x1="41.10" y1="624.00" x2="44.50" y2="624.00" stroke="#222" stroke-width="1.0"/>
<text x="30.95" y="628.00" font-size="11.5" fill="#000" stroke="#000" stroke-width="0.3" textLength="7.72" lengthAdjust="spacingAndGlyphs">0</text>
<text x="47.76" y="519.00" font-size="11.5" fill="#000" stroke="#000" stroke-width="0.3" textLength="12.30" lengthAdjust="spacingAndGlyphs">e)</text>
<line x1="362.70" y1="148.10" x2="362.70" y2="149.80" stroke="#222" stroke-width="1.0"/>
<line x1="400.16" y1="148.10" x2="400.16" y2="149.80" stroke="#222" stroke-width="1.0"/>
<line x1="437.63" y1="148.10" x2="437.63" y2="149.80" stroke="#222" stroke-width="1.0"/>
<line x1="475.09" y1="148.10" x2="475.09" y2="149.80" stroke="#222" stroke-width="1.0"/>
<line x1="512.56" y1="148.10" x2="512.56" y2="149.80" stroke="#222" stroke-width="1.0"/>
<line x1="550.02" y1="148.10" x2="550.02" y2="149.80" stroke="#222" stroke-width="1.0"/>
<line x1="587.49" y1="148.10" x2="587.49" y2="149.80" stroke="#222" stroke-width="1.0"/>
<line x1="624.95" y1="148.10" x2="624.95" y2="149.80" stroke="#222" stroke-width="1.0"/>
<line x1="381.43" y1="148.10" x2="381.43" y2="149.60" stroke="#333" stroke-width="0.8"/>
<line x1="418.90" y1="148.10" x2="418.90" y2="149.60" stroke="#333" stroke-width="0.8"/>
<line x1="456.36" y1="148.10" x2="456.36" y2="149.60" stroke="#333" stroke-width="0.8"/>
<line x1="493.83" y1="148.10" x2="493.83" y2="149.60" stroke="#333" stroke-width="0.8"/>
<line x1="531.29" y1="148.10" x2="531.29" y2="149.60" stroke="#333" stroke-width="0.8"/>
<line x1="568.76" y1="148.10" x2="568.76" y2="149.60" stroke="#333" stroke-width="0.8"/>
<line x1="606.22" y1="148.10" x2="606.22" y2="149.60" stroke="#333" stroke-width="0.8"/>
<line x1="643.69" y1="148.10" x2="643.69" y2="149.60" stroke="#333" stroke-width="0.8"/>
<line x1="649.50" y1="54.40" x2="652.90" y2="54.40" stroke="#222" stroke-width="1.0"/>
<text x="656.04" y="58.40" font-size="11.5" fill="#000" stroke="#000" stroke-width="0.3" textLength="19.57" lengthAdjust="spacingAndGlyphs">0.0</text>
<line x1="649.50" y1="83.10" x2="652.90" y2="83.10" stroke="#222" stroke-width="1.0"/>
<text x="656.02" y="87.10" font-size="11.5" fill="#000" stroke="#000" stroke-width="0.3" textLength="27.76" lengthAdjust="spacingAndGlyphs">−0.1</text>
<line x1="649.50" y1="111.70" x2="652.90" y2="111.70" stroke="#222" stroke-width="1.0"/>
<text x="656.02" y="115.70" font-size="11.5" fill="#000" stroke="#000" stroke-width="0.3" textLength="27.73" lengthAdjust="spacingAndGlyphs">−0.2</text>
<line x1="649.50" y1="140.40" x2="652.90" y2="140.40" stroke="#222" stroke-width="1.0"/>
<text x="656.02" y="144.40" font-size="11.5" fill="#000" stroke="#000" stroke-width="0.3" textLength="27.75" lengthAdjust="spacingAndGlyphs">−0.3</text>
<text x="352.05" y="38.40" font-size="11.5" fill="#000" stroke="#000" stroke-width="0.3" textLength="9.62" lengthAdjust="spacingAndGlyphs">f)</text>
<line x1="362.70" y1="268.30" x2="362.70" y2="270.00" stroke="#222" stroke-width="1.0"/>
<line x1="400.16" y1="268.30" x2="400.16" y2="270.00" stroke="#222" stroke-width="1.0"/>
<line x1="437.63" y1="268.30" x2="437.63" y2="270.00" stroke="#222" stroke-width="1.0"/>
<line x1="475.09" y1="268.30" x2="475.09" y2="270.00" stroke="#222" stroke-width="1.0"/>
<line x1="512.56" y1="268.30" x2="512.56" y2="270.00" stroke="#222" stroke-width="1.0"/>
<line x1="550.02" y1="268.30" x2="550.02" y2="270.00" stroke="#222" stroke-width="1.0"/>
<line x1="587.49" y1="268.30" x2="587.49" y2="270.00" stroke="#222" stroke-width="1.0"/>
<line x1="624.95" y1="268.30" x2="624.95" y2="270.00" stroke="#222" stroke-width="1.0"/>
<line x1="381.43" y1="268.30" x2="381.43" y2="269.80" stroke="#333" stroke-width="0.8"/>
<line x1="418.90" y1="268.30" x2="418.90" y2="269.80" stroke="#333" stroke-width="0.8"/>
<line x1="456.36" y1="268.30" x2="456.36" y2="269.80" stroke="#333" stroke-width="0.8"/>
<line x1="493.83" y1="268.30" x2="493.83" y2="269.80" stroke="#333" stroke-width="0.8"/>
<line x1="531.29" y1="268.30" x2="531.29" y2="269.80" stroke="#333" stroke-width="0.8"/>
<line x1="568.76" y1="268.30" x2="568.76" y2="269.80" stroke="#333" stroke-width="0.8"/>
<line x1="606.22" y1="268.30" x2="606.22" y2="269.80" stroke="#333" stroke-width="0.8"/>
<line x1="643.69" y1="268.30" x2="643.69" y2="269.80" stroke="#333" stroke-width="0.8"/>
<line x1="649.50" y1="173.20" x2="652.90" y2="173.20" stroke="#222" stroke-width="1.0"/>
<text x="656.05" y="177.20" font-size="11.5" fill="#000" stroke="#000" stroke-width="0.3" textLength="7.72" lengthAdjust="spacingAndGlyphs">0</text>
<line x1="649.50" y1="211.10" x2="652.90" y2="211.10" stroke="#222" stroke-width="1.0"/>
<text x="656.02" y="215.10" font-size="11.5" fill="#000" stroke="#000" stroke-width="0.3" textLength="15.89" lengthAdjust="spacingAndGlyphs">−2</text>
<line x1="649.50" y1="248.90" x2="652.90" y2="248.90" stroke="#222" stroke-width="1.0"/>
<text x="656.02" y="252.90" font-size="11.5" fill="#000" stroke="#000" stroke-width="0.3" textLength="15.85" lengthAdjust="spacingAndGlyphs">−4</text>
<text x="351.75" y="158.50" font-size="11.5" fill="#000" stroke="#000" stroke-width="0.3" textLength="12.68" lengthAdjust="spacingAndGlyphs">g)</text>
<line x1="362.70" y1="388.40" x2="362.70" y2="390.10" stroke="#222" stroke-width="1.0"/>
<line x1="400.16" y1="388.40" x2="400.16" y2="390.10" stroke="#222" stroke-width="1.0"/>
<line x1="437.63" y1="388.40" x2="437.63" y2="390.10" stroke="#222" stroke-width="1.0"/>
<line x1="475.09" y1="388.40" x2="475.09" y2="390.10" stroke="#222" stroke-width="1.0"/>
<line x1="512.56" y1="388.40" x2="512.56" y2="390.10" stroke="#222" stroke-width="1.0"/>
<line x1="550.02" y1="388.40" x2="550.02" y2="390.10" stroke="#222" stroke-width="1.0"/>
<line x1="587.49" y1="388.40" x2="587.49" y2="390.10" stroke="#222" stroke-width="1.0"/>
<line x1="624.95" y1="388.40" x2="624.95" y2="390.10" stroke="#222" stroke-width="1.0"/>
<line x1="381.43" y1="388.40" x2="381.43" y2="389.90" stroke="#333" stroke-width="0.8"/>
<line x1="418.90" y1="388.40" x2="418.90" y2="389.90" stroke="#333" stroke-width="0.8"/>
<line x1="456.36" y1="388.40" x2="456.36" y2="389.90" stroke="#333" stroke-width="0.8"/>
<line x1="493.83" y1="388.40" x2="493.83" y2="389.90" stroke="#333" stroke-width="0.8"/>
<line x1="531.29" y1="388.40" x2="531.29" y2="389.90" stroke="#333" stroke-width="0.8"/>
<line x1="568.76" y1="388.40" x2="568.76" y2="389.90" stroke="#333" stroke-width="0.8"/>
<line x1="606.22" y1="388.40" x2="606.22" y2="389.90" stroke="#333" stroke-width="0.8"/>
<line x1="643.69" y1="388.40" x2="643.69" y2="389.90" stroke="#333" stroke-width="0.8"/>
<line x1="649.50" y1="276.90" x2="652.90" y2="276.90" stroke="#222" stroke-width="1.0"/>
<text x="656.13" y="280.90" font-size="11.5" fill="#000" stroke="#000" stroke-width="0.3" textLength="18.69" lengthAdjust="spacingAndGlyphs">2.5</text>
<line x1="649.50" y1="302.40" x2="652.90" y2="302.40" stroke="#222" stroke-width="1.0"/>
<text x="656.04" y="306.40" font-size="11.5" fill="#000" stroke="#000" stroke-width="0.3" textLength="19.57" lengthAdjust="spacingAndGlyphs">0.0</text>
<line x1="649.50" y1="327.90" x2="652.90" y2="327.90" stroke="#222" stroke-width="1.0"/>
<text x="656.02" y="331.90" font-size="11.5" fill="#000" stroke="#000" stroke-width="0.3" textLength="27.74" lengthAdjust="spacingAndGlyphs">−2.5</text>
<line x1="649.50" y1="353.40" x2="652.90" y2="353.40" stroke="#222" stroke-width="1.0"/>
<text x="656.01" y="357.40" font-size="11.5" fill="#000" stroke="#000" stroke-width="0.3" textLength="28.19" lengthAdjust="spacingAndGlyphs">−5.0</text>
<line x1="649.50" y1="378.90" x2="652.90" y2="378.90" stroke="#222" stroke-width="1.0"/>
<text x="656.02" y="382.90" font-size="11.5" fill="#000" stroke="#000" stroke-width="0.3" textLength="27.74" lengthAdjust="spacingAndGlyphs">−7.5</text>
<text x="351.37" y="278.70" font-size="11.5" fill="#000" stroke="#000" stroke-width="0.3" textLength="12.58" lengthAdjust="spacingAndGlyphs">h)</text>
<line x1="362.70" y1="508.60" x2="362.70" y2="510.30" stroke="#222" stroke-width="1.0"/>
<line x1="400.16" y1="508.60" x2="400.16" y2="510.30" stroke="#222" stroke-width="1.0"/>
<line x1="437.63" y1="508.60" x2="437.63" y2="510.30" stroke="#222" stroke-width="1.0"/>
<line x1="475.09" y1="508.60" x2="475.09" y2="510.30" stroke="#222" stroke-width="1.0"/>
<line x1="512.56" y1="508.60" x2="512.56" y2="510.30" stroke="#222" stroke-width="1.0"/>
<line x1="550.02" y1="508.60" x2="550.02" y2="510.30" stroke="#222" stroke-width="1.0"/>
<line x1="587.49" y1="508.60" x2="587.49" y2="510.30" stroke="#222" stroke-width="1.0"/>
<line x1="624.95" y1="508.60" x2="624.95" y2="510.30" stroke="#222" stroke-width="1.0"/>
<line x1="381.43" y1="508.60" x2="381.43" y2="510.10" stroke="#333" stroke-width="0.8"/>
<line x1="418.90" y1="508.60" x2="418.90" y2="510.10" stroke="#333" stroke-width="0.8"/>
<line x1="456.36" y1="508.60" x2="456.36" y2="510.10" stroke="#333" stroke-width="0.8"/>
<line x1="493.83" y1="508.60" x2="493.83" y2="510.10" stroke="#333" stroke-width="0.8"/>
<line x1="531.29" y1="508.60" x2="531.29" y2="510.10" stroke="#333" stroke-width="0.8"/>
<line x1="568.76" y1="508.60" x2="568.76" y2="510.10" stroke="#333" stroke-width="0.8"/>
<line x1="606.22" y1="508.60" x2="606.22" y2="510.10" stroke="#333" stroke-width="0.8"/>
<line x1="643.69" y1="508.60" x2="643.69" y2="510.10" stroke="#333" stroke-width="0.8"/>
<line x1="649.50" y1="401.40" x2="652.90" y2="401.40" stroke="#222" stroke-width="1.0"/>
<text x="655.75" y="405.40" font-size="11.5" fill="#000" stroke="#000" stroke-width="0.3" textLength="14.94" lengthAdjust="spacingAndGlyphs">10</text>
<line x1="649.50" y1="444.40" x2="652.90" y2="444.40" stroke="#222" stroke-width="1.0"/>
<text x="656.23" y="448.40" font-size="11.5" fill="#000" stroke="#000" stroke-width="0.3" textLength="6.75" lengthAdjust="spacingAndGlyphs">5</text>
<line x1="649.50" y1="487.40" x2="652.90" y2="487.40" stroke="#222" stroke-width="1.0"/>
<text x="656.05" y="491.40" font-size="11.5" fill="#000" stroke="#000" stroke-width="0.3" textLength="7.72" lengthAdjust="spacingAndGlyphs">0</text>
<text x="351.32" y="398.80" font-size="11.5" fill="#000" stroke="#000" stroke-width="0.3" textLength="8.62" lengthAdjust="spacingAndGlyphs">i)</text>
<line x1="362.70" y1="629.00" x2="362.70" y2="632.70" stroke="#222" stroke-width="1.0"/>
<line x1="400.16" y1="629.00" x2="400.16" y2="632.70" stroke="#222" stroke-width="1.0"/>
<line x1="437.63" y1="629.00" x2="437.63" y2="632.70" stroke="#222" stroke-width="1.0"/>
<line x1="475.09" y1="629.00" x2="475.09" y2="632.70" stroke="#222" stroke-width="1.0"/>
<line x1="512.56" y1="629.00" x2="512.56" y2="632.70" stroke="#222" stroke-width="1.0"/>
<line x1="550.02" y1="629.00" x2="550.02" y2="632.70" stroke="#222" stroke-width="1.0"/>
<line x1="587.49" y1="629.00" x2="587.49" y2="632.70" stroke="#222" stroke-width="1.0"/>
<line x1="624.95" y1="629.00" x2="624.95" y2="632.70" stroke="#222" stroke-width="1.0"/>
<line x1="381.43" y1="629.00" x2="381.43" y2="631.30" stroke="#333" stroke-width="0.8"/>
<line x1="418.90" y1="629.00" x2="418.90" y2="631.30" stroke="#333" stroke-width="0.8"/>
<line x1="456.36" y1="629.00" x2="456.36" y2="631.30" stroke="#333" stroke-width="0.8"/>
<line x1="493.83" y1="629.00" x2="493.83" y2="631.30" stroke="#333" stroke-width="0.8"/>
<line x1="531.29" y1="629.00" x2="531.29" y2="631.30" stroke="#333" stroke-width="0.8"/>
<line x1="568.76" y1="629.00" x2="568.76" y2="631.30" stroke="#333" stroke-width="0.8"/>
<line x1="606.22" y1="629.00" x2="606.22" y2="631.30" stroke="#333" stroke-width="0.8"/>
<line x1="643.69" y1="629.00" x2="643.69" y2="631.30" stroke="#333" stroke-width="0.8"/>
<line x1="649.50" y1="522.30" x2="652.90" y2="522.30" stroke="#222" stroke-width="1.0"/>
<text x="656.12" y="526.30" font-size="11.5" fill="#000" stroke="#000" stroke-width="0.3" textLength="7.34" lengthAdjust="spacingAndGlyphs">6</text>
<line x1="649.50" y1="554.30" x2="652.90" y2="554.30" stroke="#222" stroke-width="1.0"/>
<text x="656.41" y="558.30" font-size="11.5" fill="#000" stroke="#000" stroke-width="0.3" textLength="6.91" lengthAdjust="spacingAndGlyphs">4</text>
<line x1="649.50" y1="586.30" x2="652.90" y2="586.30" stroke="#222" stroke-width="1.0"/>
<text x="656.18" y="590.30" font-size="11.5" fill="#000" stroke="#000" stroke-width="0.3" textLength="6.73" lengthAdjust="spacingAndGlyphs">2</text>
<line x1="649.50" y1="618.30" x2="652.90" y2="618.30" stroke="#222" stroke-width="1.0"/>
<text x="656.05" y="622.30" font-size="11.5" fill="#000" stroke="#000" stroke-width="0.3" textLength="7.72" lengthAdjust="spacingAndGlyphs">0</text>
<text x="352.52" y="519.00" font-size="11.5" fill="#000" stroke="#000" stroke-width="0.3" textLength="8.70" lengthAdjust="spacingAndGlyphs">j)</text>
<g transform="translate(26.20 88.70) rotate(-90)"><text x="-13.10" y="0" font-size="11.5" fill="#000" stroke="#000" stroke-width="0.3" textLength="25.71" lengthAdjust="spacingAndGlyphs">NSA</text></g>
<g transform="translate(9.20 208.80) rotate(-90)"><text x="-12.87" y="0" font-size="11.5" fill="#000" stroke="#000" stroke-width="0.3" textLength="25.34" lengthAdjust="spacingAndGlyphs">USA</text></g>
<g transform="translate(9.20 330.30) rotate(-90)"><text x="-7.98" y="0" font-size="11.5" fill="#000" stroke="#000" stroke-width="0.3" textLength="15.89" lengthAdjust="spacingAndGlyphs">EU</text></g>
<g transform="translate(11.00 450.10) rotate(-90)"><text x="-8.25" y="0" font-size="11.5" fill="#000" stroke="#000" stroke-width="0.3" textLength="16.04" lengthAdjust="spacingAndGlyphs">EA</text></g>
<g transform="translate(11.00 571.20) rotate(-90)"><text x="-15.42" y="0" font-size="11.5" fill="#000" stroke="#000" stroke-width="0.3" textLength="29.89" lengthAdjust="spacingAndGlyphs">India</text></g>
<text x="54.71" y="644.80" font-size="11.5" fill="#000" stroke="#000" stroke-width="0.3" textLength="6.76" lengthAdjust="spacingAndGlyphs">1</text>
<text x="88.39" y="644.80" font-size="11.5" fill="#000" stroke="#000" stroke-width="0.3" textLength="14.89" lengthAdjust="spacingAndGlyphs">50</text>
<text x="121.78" y="644.80" font-size="11.5" fill="#000" stroke="#000" stroke-width="0.3" textLength="22.60" lengthAdjust="spacingAndGlyphs">100</text>
<text x="159.24" y="644.80" font-size="11.5" fill="#000" stroke="#000" stroke-width="0.3" textLength="22.60" lengthAdjust="spacingAndGlyphs">150</text>
<text x="196.91" y="644.80" font-size="11.5" fill="#000" stroke="#000" stroke-width="0.3" textLength="22.59" lengthAdjust="spacingAndGlyphs">200</text>
<text x="234.37" y="644.80" font-size="11.5" fill="#000" stroke="#000" stroke-width="0.3" textLength="22.59" lengthAdjust="spacingAndGlyphs">250</text>
<text x="271.93" y="644.80" font-size="11.5" fill="#000" stroke="#000" stroke-width="0.3" textLength="22.56" lengthAdjust="spacingAndGlyphs">300</text>
<text x="309.40" y="644.80" font-size="11.5" fill="#000" stroke="#000" stroke-width="0.3" textLength="22.56" lengthAdjust="spacingAndGlyphs">350</text>
<text x="359.11" y="644.80" font-size="11.5" fill="#000" stroke="#000" stroke-width="0.3" textLength="6.76" lengthAdjust="spacingAndGlyphs">1</text>
<text x="392.79" y="644.80" font-size="11.5" fill="#000" stroke="#000" stroke-width="0.3" textLength="14.89" lengthAdjust="spacingAndGlyphs">50</text>
<text x="426.18" y="644.80" font-size="11.5" fill="#000" stroke="#000" stroke-width="0.3" textLength="22.60" lengthAdjust="spacingAndGlyphs">100</text>
<text x="463.64" y="644.80" font-size="11.5" fill="#000" stroke="#000" stroke-width="0.3" textLength="22.60" lengthAdjust="spacingAndGlyphs">150</text>
<text x="501.31" y="644.80" font-size="11.5" fill="#000" stroke="#000" stroke-width="0.3" textLength="22.59" lengthAdjust="spacingAndGlyphs">200</text>
<text x="538.77" y="644.80" font-size="11.5" fill="#000" stroke="#000" stroke-width="0.3" textLength="22.59" lengthAdjust="spacingAndGlyphs">250</text>
<text x="576.33" y="644.80" font-size="11.5" fill="#000" stroke="#000" stroke-width="0.3" textLength="22.56" lengthAdjust="spacingAndGlyphs">300</text>
<text x="613.80" y="644.80" font-size="11.5" fill="#000" stroke="#000" stroke-width="0.3" textLength="22.56" lengthAdjust="spacingAndGlyphs">350</text>
<text x="128.69" y="9.40" font-size="11.5" fill="#000" stroke="#000" stroke-width="0.3" textLength="128.13" lengthAdjust="spacingAndGlyphs">Aerosol Surface Area</text>
<text x="144.17" y="23.00" font-size="11.5" fill="#000" stroke="#000" stroke-width="0.3" textLength="18.25" lengthAdjust="spacingAndGlyphs">(10</text>
<text x="163.69" y="18.90" font-size="7.8" fill="#000" stroke="#000" stroke-width="0.3" textLength="16.61" lengthAdjust="spacingAndGlyphs">−10</text>
<text x="185.12" y="23.00" font-size="11.5" fill="#000" stroke="#000" stroke-width="0.3" textLength="17.63" lengthAdjust="spacingAndGlyphs">cm</text>
<text x="202.36" y="18.90" font-size="7.8" fill="#000" stroke="#000" stroke-width="0.3" textLength="5.43" lengthAdjust="spacingAndGlyphs">2</text>
<text x="212.03" y="23.00" font-size="11.5" fill="#000" stroke="#000" stroke-width="0.3" textLength="17.53" lengthAdjust="spacingAndGlyphs">cm</text>
<text x="228.83" y="18.90" font-size="7.8" fill="#000" stroke="#000" stroke-width="0.3" textLength="12.88" lengthAdjust="spacingAndGlyphs">−3</text>
<text x="242.49" y="23.00" font-size="11.5" fill="#000" stroke="#000" stroke-width="0.3" textLength="3.42" lengthAdjust="spacingAndGlyphs">)</text>
<text x="436.23" y="23.20" font-size="11.5" fill="#000" stroke="#000" stroke-width="0.3" textLength="125.81" lengthAdjust="spacingAndGlyphs">Surface Ozone (ppb)</text>
<line x1="327.4" y1="663.1" x2="350.7" y2="663.1" stroke="#ff2020" stroke-width="1.45"/>
<text x="358.13" y="666.70" font-size="11.5" fill="#000" stroke="#000" stroke-width="0.3" textLength="58.22" lengthAdjust="spacingAndGlyphs">SSP 2-4.5</text>
<line x1="438.1" y1="663.0" x2="458.1" y2="663.0" stroke="#ff2020" stroke-width="1.45" stroke-dasharray="5.2 2.0"/>
<text x="468.53" y="666.70" font-size="11.5" fill="#000" stroke="#000" stroke-width="0.3" textLength="58.33" lengthAdjust="spacingAndGlyphs">SSP 1-2.6</text>
<line x1="547.9" y1="663.0" x2="569" y2="663.0" stroke="#ff2020" stroke-width="1.45" stroke-dasharray="1.45 2.15"/>
<text x="578.93" y="666.70" font-size="11.5" fill="#000" stroke="#000" stroke-width="0.3" textLength="57.82" lengthAdjust="spacingAndGlyphs">SSP 5-8.5</text>
<text x="290.04" y="684.30" font-size="11.5" fill="#000" stroke="#000" stroke-width="0.3" textLength="94.06" lengthAdjust="spacingAndGlyphs">Day of the Year</text>
<text x="478.54" y="684.40" font-size="11.5" fill="#000" stroke="#000" stroke-width="0.3" textLength="29.67" lengthAdjust="spacingAndGlyphs">2018</text>
<text x="533.03" y="684.40" font-size="11.5" fill="#2a8c1e" stroke="#2a8c1e" stroke-width="0.3" textLength="30.47" lengthAdjust="spacingAndGlyphs">2046</text>
<text x="587.93" y="684.40" font-size="11.5" fill="#ff0000" stroke="#ff0000" stroke-width="0.3" textLength="29.95" lengthAdjust="spacingAndGlyphs">2096</text>
</svg></body></html>
